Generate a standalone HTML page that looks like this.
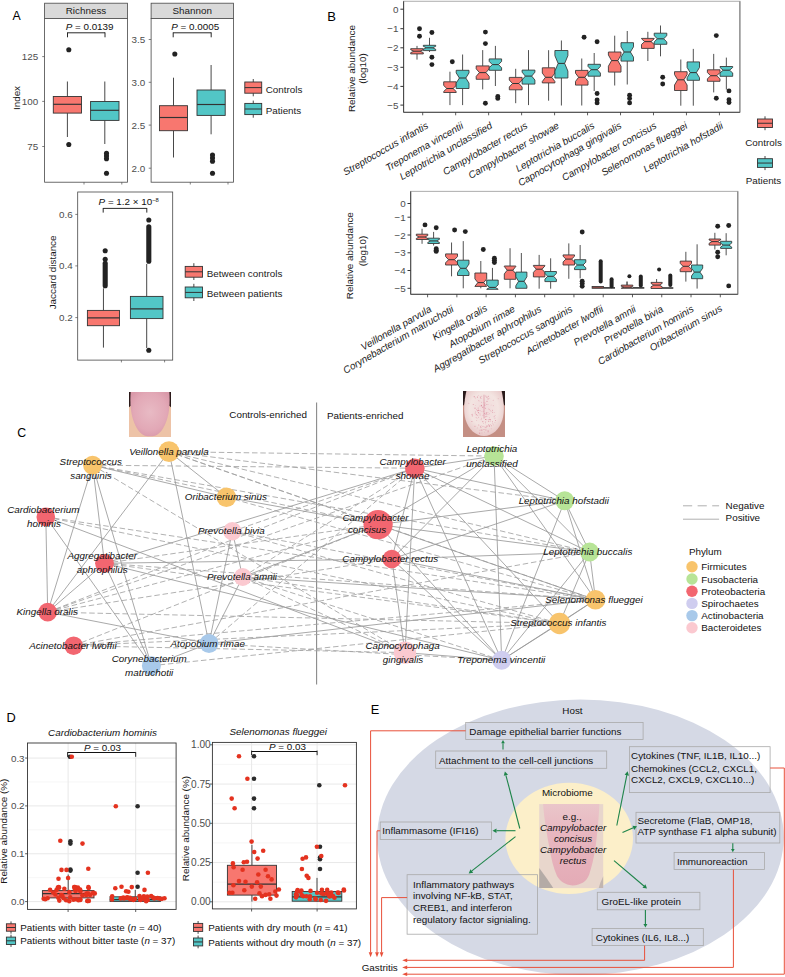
<!DOCTYPE html>
<html><head><meta charset="utf-8"><title>Figure</title>
<style>
html,body{margin:0;padding:0;background:#fff;}
svg{display:block;font-family:"Liberation Sans",sans-serif;}
</style></head><body>
<svg width="785" height="977" viewBox="0 0 785 977">
<defs>
<radialGradient id="tgc" cx="50%" cy="45%" r="60%"><stop offset="0" stop-color="#E8BAC4"/><stop offset="0.7" stop-color="#E2A8B6"/><stop offset="1" stop-color="#D999A9"/></radialGradient>
<radialGradient id="tgp" cx="50%" cy="40%" r="60%"><stop offset="0" stop-color="#F1DADB"/><stop offset="0.6" stop-color="#F3E4E1"/><stop offset="1" stop-color="#E8C8C8"/></radialGradient>
<linearGradient id="tge" x1="0" y1="0" x2="0" y2="1"><stop offset="0" stop-color="#EAC6CA"/><stop offset="0.35" stop-color="#E8B7C0"/><stop offset="1" stop-color="#E4ABB6"/></linearGradient>
</defs>
<rect x="0" y="0" width="785" height="977" fill="#fff"/>
<text x="16.7" y="19.97" font-size="12.3" text-anchor="middle" fill="#000">A</text>
<rect x="44.6" y="3.2" width="82.8" height="15.2" fill="#D9D9D9" stroke="#474747" stroke-width="0.8"/>
<text x="86" y="14.4" font-size="9.85" text-anchor="middle" fill="#1a1a1a">Richness</text>
<rect x="44.6" y="18.4" width="82.8" height="163.8" fill="#fff" stroke="#474747" stroke-width="0.8"/>
<rect x="151.1" y="3.2" width="82.3" height="15.2" fill="#D9D9D9" stroke="#474747" stroke-width="0.8"/>
<text x="192.25" y="14.4" font-size="9.85" text-anchor="middle" fill="#1a1a1a">Shannon</text>
<rect x="151.1" y="18.4" width="82.3" height="163.8" fill="#fff" stroke="#474747" stroke-width="0.8"/>
<line x1="84" y1="182.2" x2="84" y2="184.5" stroke="#4d4d4d" stroke-width="0.7"/>
<line x1="121.8" y1="182.2" x2="121.8" y2="184.5" stroke="#4d4d4d" stroke-width="0.7"/>
<line x1="190.3" y1="182.2" x2="190.3" y2="184.5" stroke="#4d4d4d" stroke-width="0.7"/>
<line x1="228" y1="182.2" x2="228" y2="184.5" stroke="#4d4d4d" stroke-width="0.7"/>
<line x1="42.2" y1="56.6" x2="44.6" y2="56.6" stroke="#4d4d4d" stroke-width="0.7"/>
<text x="38.2" y="60.1" font-size="9.85" text-anchor="end" fill="#4d4d4d">125</text>
<line x1="42.2" y1="101.4" x2="44.6" y2="101.4" stroke="#4d4d4d" stroke-width="0.7"/>
<text x="38.2" y="104.9" font-size="9.85" text-anchor="end" fill="#4d4d4d">100</text>
<line x1="42.2" y1="146.5" x2="44.6" y2="146.5" stroke="#4d4d4d" stroke-width="0.7"/>
<text x="38.2" y="150" font-size="9.85" text-anchor="end" fill="#4d4d4d">75</text>
<text x="20" y="98" font-size="9.85" text-anchor="middle" fill="#1a1a1a" transform="rotate(-90 20 98)">Index</text>
<line x1="148.7" y1="39.5" x2="151.1" y2="39.5" stroke="#4d4d4d" stroke-width="0.7"/>
<text x="145.2" y="43" font-size="9.85" text-anchor="end" fill="#4d4d4d">3.5</text>
<line x1="148.7" y1="82.3" x2="151.1" y2="82.3" stroke="#4d4d4d" stroke-width="0.7"/>
<text x="145.2" y="85.8" font-size="9.85" text-anchor="end" fill="#4d4d4d">3.0</text>
<line x1="148.7" y1="125.1" x2="151.1" y2="125.1" stroke="#4d4d4d" stroke-width="0.7"/>
<text x="145.2" y="128.6" font-size="9.85" text-anchor="end" fill="#4d4d4d">2.5</text>
<line x1="148.7" y1="168.2" x2="151.1" y2="168.2" stroke="#4d4d4d" stroke-width="0.7"/>
<text x="145.2" y="171.7" font-size="9.85" text-anchor="end" fill="#4d4d4d">2.0</text>
<text x="89.6" y="30.2" font-size="9.85" text-anchor="middle" fill="#111"><tspan font-style="italic">P</tspan> = 0.0139</text>
<line x1="67.5" y1="32.8" x2="105" y2="32.8" stroke="#111" stroke-width="0.9"/>
<line x1="67.5" y1="32.4" x2="67.5" y2="37.3" stroke="#111" stroke-width="0.9"/>
<line x1="105" y1="32.4" x2="105" y2="37.3" stroke="#111" stroke-width="0.9"/>
<text x="195.2" y="30.2" font-size="9.85" text-anchor="middle" fill="#111"><tspan font-style="italic">P</tspan> = 0.0005</text>
<line x1="173.2" y1="32.8" x2="211.2" y2="32.8" stroke="#111" stroke-width="0.9"/>
<line x1="173.2" y1="32.4" x2="173.2" y2="37.3" stroke="#111" stroke-width="0.9"/>
<line x1="211.2" y1="32.4" x2="211.2" y2="37.3" stroke="#111" stroke-width="0.9"/>
<line x1="67.4" y1="81.5" x2="67.4" y2="96.5" stroke="#333" stroke-width="0.9"/>
<line x1="67.4" y1="113.1" x2="67.4" y2="137" stroke="#333" stroke-width="0.9"/>
<rect x="53.3" y="96.5" width="28.2" height="16.6" fill="#F8776F" stroke="#333" stroke-width="0.9"/>
<line x1="53.3" y1="104.3" x2="81.5" y2="104.3" stroke="#333" stroke-width="1.1700000000000002"/>
<line x1="104.8" y1="81.5" x2="104.8" y2="101.5" stroke="#333" stroke-width="0.9"/>
<line x1="104.8" y1="120.4" x2="104.8" y2="144" stroke="#333" stroke-width="0.9"/>
<rect x="90.6" y="101.5" width="28.4" height="18.9" fill="#52C6C6" stroke="#333" stroke-width="0.9"/>
<line x1="90.6" y1="110.3" x2="119" y2="110.3" stroke="#333" stroke-width="1.1700000000000002"/>
<circle cx="68.8" cy="49.7" r="2.55" fill="#222"/>
<circle cx="68.8" cy="144.5" r="2.55" fill="#222"/>
<circle cx="106.5" cy="153.4" r="2.55" fill="#222"/>
<circle cx="106.5" cy="156" r="2.55" fill="#222"/>
<circle cx="106.5" cy="158.7" r="2.55" fill="#222"/>
<circle cx="106.5" cy="173.2" r="2.55" fill="#222"/>
<line x1="173.5" y1="77.7" x2="173.5" y2="105.7" stroke="#333" stroke-width="0.9"/>
<line x1="173.5" y1="130.7" x2="173.5" y2="157.5" stroke="#333" stroke-width="0.9"/>
<rect x="159.5" y="105.7" width="28" height="25" fill="#F8776F" stroke="#333" stroke-width="0.9"/>
<line x1="159.5" y1="117.5" x2="187.5" y2="117.5" stroke="#333" stroke-width="1.1700000000000002"/>
<line x1="211.1" y1="65" x2="211.1" y2="90" stroke="#333" stroke-width="0.9"/>
<line x1="211.1" y1="115.4" x2="211.1" y2="134.3" stroke="#333" stroke-width="0.9"/>
<rect x="197" y="90" width="28.2" height="25.4" fill="#52C6C6" stroke="#333" stroke-width="0.9"/>
<line x1="197" y1="104.5" x2="225.2" y2="104.5" stroke="#333" stroke-width="1.1700000000000002"/>
<circle cx="174.8" cy="54" r="2.55" fill="#222"/>
<circle cx="212.5" cy="155" r="2.55" fill="#222"/>
<circle cx="212.5" cy="158" r="2.55" fill="#222"/>
<circle cx="212.5" cy="161.3" r="2.55" fill="#222"/>
<circle cx="212.5" cy="173.2" r="2.55" fill="#222"/>
<line x1="253.25" y1="79" x2="253.25" y2="96.3" stroke="#333" stroke-width="0.9"/>
<rect x="244.8" y="82" width="16.9" height="11.2" fill="#F8776F" stroke="#333" stroke-width="0.9"/>
<line x1="244.8" y1="87.6" x2="261.7" y2="87.6" stroke="#333" stroke-width="1.0"/>
<text x="265.7" y="92.7" font-size="9.85" text-anchor="start" fill="#1a1a1a">Controls</text>
<line x1="253.25" y1="100.6" x2="253.25" y2="117.7" stroke="#333" stroke-width="0.9"/>
<rect x="244.8" y="103.4" width="16.9" height="11.2" fill="#52C6C6" stroke="#333" stroke-width="0.9"/>
<line x1="244.8" y1="109" x2="261.7" y2="109" stroke="#333" stroke-width="1.0"/>
<text x="265.7" y="114.3" font-size="9.85" text-anchor="start" fill="#1a1a1a">Patients</text>
<rect x="77.7" y="192" width="95" height="168.1" fill="#fff" stroke="#474747" stroke-width="0.8"/>
<line x1="75.3" y1="214.4" x2="77.7" y2="214.4" stroke="#4d4d4d" stroke-width="0.7"/>
<text x="72.8" y="217.9" font-size="9.85" text-anchor="end" fill="#4d4d4d">0.6</text>
<line x1="75.3" y1="265.9" x2="77.7" y2="265.9" stroke="#4d4d4d" stroke-width="0.7"/>
<text x="72.8" y="269.4" font-size="9.85" text-anchor="end" fill="#4d4d4d">0.4</text>
<line x1="75.3" y1="317.6" x2="77.7" y2="317.6" stroke="#4d4d4d" stroke-width="0.7"/>
<text x="72.8" y="321.1" font-size="9.85" text-anchor="end" fill="#4d4d4d">0.2</text>
<line x1="121.4" y1="360.1" x2="121.4" y2="362.4" stroke="#4d4d4d" stroke-width="0.7"/>
<line x1="164.6" y1="360.1" x2="164.6" y2="362.4" stroke="#4d4d4d" stroke-width="0.7"/>
<text x="55.7" y="272.4" font-size="9.85" text-anchor="middle" fill="#1a1a1a" transform="rotate(-90 55.7 272.4)">Jaccard distance</text>
<text x="128.7" y="205.2" font-size="9.85" text-anchor="middle" fill="#111"><tspan font-style="italic">P</tspan> = 1.2 × 10<tspan font-size="5.8" dy="-3.4">−8</tspan></text>
<line x1="103.2" y1="208.4" x2="146.8" y2="208.4" stroke="#111" stroke-width="0.9"/>
<line x1="103.2" y1="208" x2="103.2" y2="212.6" stroke="#111" stroke-width="0.9"/>
<line x1="146.8" y1="208" x2="146.8" y2="212.6" stroke="#111" stroke-width="0.9"/>
<line x1="103.45" y1="288.3" x2="103.45" y2="310.4" stroke="#333" stroke-width="0.9"/>
<line x1="103.45" y1="325.7" x2="103.45" y2="347.6" stroke="#333" stroke-width="0.9"/>
<rect x="87.4" y="310.4" width="32.1" height="15.3" fill="#F8776F" stroke="#333" stroke-width="0.9"/>
<line x1="87.4" y1="317.8" x2="119.5" y2="317.8" stroke="#333" stroke-width="1.1700000000000002"/>
<line x1="146.7" y1="264" x2="146.7" y2="296.4" stroke="#333" stroke-width="0.9"/>
<line x1="146.7" y1="318.6" x2="146.7" y2="348" stroke="#333" stroke-width="0.9"/>
<rect x="130.4" y="296.4" width="32.6" height="22.2" fill="#52C6C6" stroke="#333" stroke-width="0.9"/>
<line x1="130.4" y1="308.9" x2="163" y2="308.9" stroke="#333" stroke-width="1.1700000000000002"/>
<circle cx="105.2" cy="250.8" r="2.55" fill="#222"/>
<circle cx="105.2" cy="259.2" r="2.55" fill="#222"/>
<rect x="102.65" y="260.8" width="5.1" height="27.4" rx="2.55" fill="#222"/>
<circle cx="148.8" cy="220" r="2.55" fill="#222"/>
<rect x="146.25" y="224.3" width="5.1" height="39.4" rx="2.55" fill="#222"/>
<circle cx="148.8" cy="350.2" r="2.55" fill="#222"/>
<line x1="193.85" y1="263.2" x2="193.85" y2="280" stroke="#333" stroke-width="0.9"/>
<rect x="185.2" y="266.4" width="17.3" height="10.8" fill="#F8776F" stroke="#333" stroke-width="0.9"/>
<line x1="185.2" y1="271.8" x2="202.5" y2="271.8" stroke="#333" stroke-width="1.0"/>
<text x="206.8" y="276.6" font-size="9.85" text-anchor="start" fill="#1a1a1a">Between controls</text>
<line x1="193.85" y1="283.8" x2="193.85" y2="301" stroke="#333" stroke-width="0.9"/>
<rect x="185.2" y="287" width="17.3" height="10.8" fill="#52C6C6" stroke="#333" stroke-width="0.9"/>
<line x1="185.2" y1="292.4" x2="202.5" y2="292.4" stroke="#333" stroke-width="1.0"/>
<text x="206.8" y="297" font-size="9.85" text-anchor="start" fill="#1a1a1a">Between patients</text>
<text x="331.7" y="20.62" font-size="13.0" text-anchor="middle" fill="#000">B</text>
<rect x="403.6" y="1.3" width="336.3" height="111" fill="#fff" stroke="#b4b4b4" stroke-width="1.1"/>
<line x1="739.9" y1="1.3" x2="739.9" y2="112.3" stroke="#7a7a7a" stroke-width="1.0"/>
<line x1="403.6" y1="1.3" x2="403.6" y2="112.3" stroke="#333" stroke-width="0.9"/>
<line x1="403.6" y1="112.3" x2="739.9" y2="112.3" stroke="#333" stroke-width="0.9"/>
<line x1="400.4" y1="9.2" x2="403.6" y2="9.2" stroke="#333" stroke-width="1.0"/>
<text x="398.4" y="12.7" font-size="9.85" text-anchor="end" fill="#4d4d4d">0</text>
<line x1="400.4" y1="28.7" x2="403.6" y2="28.7" stroke="#333" stroke-width="1.0"/>
<text x="398.4" y="32.2" font-size="9.85" text-anchor="end" fill="#4d4d4d">−1</text>
<line x1="400.4" y1="47.8" x2="403.6" y2="47.8" stroke="#333" stroke-width="1.0"/>
<text x="398.4" y="51.3" font-size="9.85" text-anchor="end" fill="#4d4d4d">−2</text>
<line x1="400.4" y1="67.3" x2="403.6" y2="67.3" stroke="#333" stroke-width="1.0"/>
<text x="398.4" y="70.8" font-size="9.85" text-anchor="end" fill="#4d4d4d">−3</text>
<line x1="400.4" y1="86.4" x2="403.6" y2="86.4" stroke="#333" stroke-width="1.0"/>
<text x="398.4" y="89.9" font-size="9.85" text-anchor="end" fill="#4d4d4d">−4</text>
<line x1="400.4" y1="105.1" x2="403.6" y2="105.1" stroke="#333" stroke-width="1.0"/>
<text x="398.4" y="108.6" font-size="9.85" text-anchor="end" fill="#4d4d4d">−5</text>
<line x1="422.7" y1="112.3" x2="422.7" y2="115.3" stroke="#333" stroke-width="0.8"/>
<line x1="417" y1="45.9" x2="417" y2="48.7" stroke="#333" stroke-width="0.85"/>
<line x1="417" y1="53.9" x2="417" y2="59.6" stroke="#333" stroke-width="0.85"/>
<polygon points="410.7,48.7 410.7,49.74 413.85,51.2 410.7,52.66 410.7,53.9 423.3,53.9 423.3,52.66 420.15,51.2 423.3,49.74 423.3,48.7" fill="#F8776F" stroke="#333" stroke-width="0.85" stroke-linejoin="round"/>
<line x1="413.85" y1="51.2" x2="420.15" y2="51.2" stroke="#333" stroke-width="1.02"/>
<circle cx="419.5" cy="28.7" r="2.45" fill="#222"/>
<circle cx="419.5" cy="36.3" r="2.45" fill="#222"/>
<line x1="429.5" y1="37.8" x2="429.5" y2="45.3" stroke="#333" stroke-width="0.85"/>
<line x1="429.5" y1="50.6" x2="429.5" y2="52" stroke="#333" stroke-width="0.85"/>
<polygon points="423.3,45.3 423.3,46.32 426.4,47.8 423.3,49.28 423.3,50.6 435.7,50.6 435.7,49.28 432.6,47.8 435.7,46.32 435.7,45.3" fill="#52C6C6" stroke="#333" stroke-width="0.85" stroke-linejoin="round"/>
<line x1="426.4" y1="47.8" x2="432.6" y2="47.8" stroke="#333" stroke-width="1.02"/>
<circle cx="431.9" cy="32.5" r="2.45" fill="#222"/>
<circle cx="431.9" cy="57.3" r="2.45" fill="#222"/>
<circle cx="431.9" cy="64.6" r="2.45" fill="#222"/>
<text x="429" y="127.6" font-size="9.85" text-anchor="end" font-style="italic" fill="#1a1a1a" transform="rotate(-30 429 127.6)">Streptococcus infantis</text>
<line x1="455.67" y1="112.3" x2="455.67" y2="115.3" stroke="#333" stroke-width="0.8"/>
<line x1="449.95" y1="71.7" x2="449.95" y2="81.8" stroke="#333" stroke-width="0.85"/>
<line x1="449.95" y1="92.5" x2="449.95" y2="105.1" stroke="#333" stroke-width="0.85"/>
<polygon points="443.7,81.8 443.7,85.5 446.82,88.5 443.7,91.5 443.7,92.5 456.2,92.5 456.2,91.5 453.07,88.5 456.2,85.5 456.2,81.8" fill="#F8776F" stroke="#333" stroke-width="0.85" stroke-linejoin="round"/>
<line x1="446.82" y1="88.5" x2="453.07" y2="88.5" stroke="#333" stroke-width="1.02"/>
<circle cx="452.3" cy="61.7" r="2.45" fill="#222"/>
<line x1="462.6" y1="54.5" x2="462.6" y2="70.3" stroke="#333" stroke-width="0.85"/>
<line x1="462.6" y1="88.5" x2="462.6" y2="105.1" stroke="#333" stroke-width="0.85"/>
<polygon points="456.2,70.3 456.2,72.9 459.4,78 456.2,83.1 456.2,88.5 469,88.5 469,83.1 465.8,78 469,72.9 469,70.3" fill="#52C6C6" stroke="#333" stroke-width="0.85" stroke-linejoin="round"/>
<line x1="459.4" y1="78" x2="465.8" y2="78" stroke="#333" stroke-width="1.02"/>
<text x="464.07" y="127.6" font-size="9.85" text-anchor="end" font-style="italic" fill="#1a1a1a" transform="rotate(-30 464.07 127.6)">Treponema vincentii</text>
<line x1="488.64" y1="112.3" x2="488.64" y2="115.3" stroke="#333" stroke-width="0.8"/>
<line x1="482.7" y1="50.1" x2="482.7" y2="65.9" stroke="#333" stroke-width="0.85"/>
<line x1="482.7" y1="79.3" x2="482.7" y2="89.4" stroke="#333" stroke-width="0.85"/>
<polygon points="476.2,65.9 476.2,68.85 479.45,72.6 476.2,76.35 476.2,79.3 489.2,79.3 489.2,76.35 485.95,72.6 489.2,68.85 489.2,65.9" fill="#F8776F" stroke="#333" stroke-width="0.85" stroke-linejoin="round"/>
<line x1="479.45" y1="72.6" x2="485.95" y2="72.6" stroke="#333" stroke-width="1.02"/>
<circle cx="485.4" cy="32.1" r="2.45" fill="#222"/>
<circle cx="485.4" cy="43.6" r="2.45" fill="#222"/>
<circle cx="485.4" cy="103.2" r="2.45" fill="#222"/>
<line x1="495.4" y1="45.9" x2="495.4" y2="58.9" stroke="#333" stroke-width="0.85"/>
<line x1="495.4" y1="70.3" x2="495.4" y2="86" stroke="#333" stroke-width="0.85"/>
<polygon points="489.2,58.9 489.2,61.41 492.3,64.6 489.2,67.79 489.2,70.3 501.6,70.3 501.6,67.79 498.5,64.6 501.6,61.41 501.6,58.9" fill="#52C6C6" stroke="#333" stroke-width="0.85" stroke-linejoin="round"/>
<line x1="492.3" y1="64.6" x2="498.5" y2="64.6" stroke="#333" stroke-width="1.02"/>
<circle cx="497.8" cy="96.5" r="2.45" fill="#222"/>
<circle cx="497.8" cy="98.4" r="2.45" fill="#222"/>
<text x="493.04" y="127.6" font-size="9.85" text-anchor="end" font-style="italic" fill="#1a1a1a" transform="rotate(-30 493.04 127.6)">Leptotrichia unclassified</text>
<line x1="521.61" y1="112.3" x2="521.61" y2="115.3" stroke="#333" stroke-width="0.8"/>
<line x1="515.7" y1="68.8" x2="515.7" y2="77.4" stroke="#333" stroke-width="0.85"/>
<line x1="515.7" y1="89.8" x2="515.7" y2="103.2" stroke="#333" stroke-width="0.85"/>
<polygon points="509.3,77.4 509.3,80.03 512.5,83.5 509.3,86.97 509.3,89.8 522.1,89.8 522.1,86.97 518.9,83.5 522.1,80.03 522.1,77.4" fill="#F8776F" stroke="#333" stroke-width="0.85" stroke-linejoin="round"/>
<line x1="512.5" y1="83.5" x2="518.9" y2="83.5" stroke="#333" stroke-width="1.02"/>
<line x1="528.5" y1="50.1" x2="528.5" y2="70.1" stroke="#333" stroke-width="0.85"/>
<line x1="528.5" y1="84.1" x2="528.5" y2="105.1" stroke="#333" stroke-width="0.85"/>
<polygon points="522.1,70.1 522.1,72.18 525.3,76.1 522.1,80.02 522.1,84.1 534.9,84.1 534.9,80.02 531.7,76.1 534.9,72.18 534.9,70.1" fill="#52C6C6" stroke="#333" stroke-width="0.85" stroke-linejoin="round"/>
<line x1="525.3" y1="76.1" x2="531.7" y2="76.1" stroke="#333" stroke-width="1.02"/>
<text x="528.21" y="127.6" font-size="9.85" text-anchor="end" font-style="italic" fill="#1a1a1a" transform="rotate(-30 528.21 127.6)">Campylobacter rectus</text>
<line x1="554.58" y1="112.3" x2="554.58" y2="115.3" stroke="#333" stroke-width="0.8"/>
<line x1="548.6" y1="50.2" x2="548.6" y2="67.8" stroke="#333" stroke-width="0.85"/>
<line x1="548.6" y1="82.9" x2="548.6" y2="100.7" stroke="#333" stroke-width="0.85"/>
<polygon points="542.3,67.8 542.3,73.07 545.45,77.3 542.3,81.53 542.3,82.9 554.9,82.9 554.9,81.53 551.75,77.3 554.9,73.07 554.9,67.8" fill="#F8776F" stroke="#333" stroke-width="0.85" stroke-linejoin="round"/>
<line x1="545.45" y1="77.3" x2="551.75" y2="77.3" stroke="#333" stroke-width="1.02"/>
<line x1="561.4" y1="40.5" x2="561.4" y2="50.5" stroke="#333" stroke-width="0.85"/>
<line x1="561.4" y1="78" x2="561.4" y2="105.5" stroke="#333" stroke-width="0.85"/>
<polygon points="554.9,50.5 554.9,55.7 558.15,63.4 554.9,71.1 554.9,78 567.9,78 567.9,71.1 564.65,63.4 567.9,55.7 567.9,50.5" fill="#52C6C6" stroke="#333" stroke-width="0.85" stroke-linejoin="round"/>
<line x1="558.15" y1="63.4" x2="564.65" y2="63.4" stroke="#333" stroke-width="1.02"/>
<text x="559.88" y="127.6" font-size="9.85" text-anchor="end" font-style="italic" fill="#1a1a1a" transform="rotate(-30 559.88 127.6)">Campylobacter showae</text>
<line x1="587.55" y1="112.3" x2="587.55" y2="115.3" stroke="#333" stroke-width="0.8"/>
<line x1="581.75" y1="58.5" x2="581.75" y2="70.4" stroke="#333" stroke-width="0.85"/>
<line x1="581.75" y1="85.1" x2="581.75" y2="105.5" stroke="#333" stroke-width="0.85"/>
<polygon points="575.5,70.4 575.5,73.18 578.62,77.3 575.5,81.42 575.5,85.1 588,85.1 588,81.42 584.88,77.3 588,73.18 588,70.4" fill="#F8776F" stroke="#333" stroke-width="0.85" stroke-linejoin="round"/>
<line x1="578.62" y1="77.3" x2="584.88" y2="77.3" stroke="#333" stroke-width="1.02"/>
<circle cx="584.1" cy="37.2" r="2.45" fill="#222"/>
<line x1="594.2" y1="53" x2="594.2" y2="64.3" stroke="#333" stroke-width="0.85"/>
<line x1="594.2" y1="76.2" x2="594.2" y2="91" stroke="#333" stroke-width="0.85"/>
<polygon points="588,64.3 588,66.37 591.1,69.7 588,73.03 588,76.2 600.4,76.2 600.4,73.03 597.3,69.7 600.4,66.37 600.4,64.3" fill="#52C6C6" stroke="#333" stroke-width="0.85" stroke-linejoin="round"/>
<line x1="591.1" y1="69.7" x2="597.3" y2="69.7" stroke="#333" stroke-width="1.02"/>
<circle cx="597.1" cy="41.8" r="2.45" fill="#222"/>
<circle cx="597.1" cy="93.5" r="2.45" fill="#222"/>
<circle cx="597.1" cy="100" r="2.45" fill="#222"/>
<circle cx="597.1" cy="102.9" r="2.45" fill="#222"/>
<text x="595.25" y="127.6" font-size="9.85" text-anchor="end" font-style="italic" fill="#1a1a1a" transform="rotate(-30 595.25 127.6)">Leptotrichia buccalis</text>
<line x1="620.52" y1="112.3" x2="620.52" y2="115.3" stroke="#333" stroke-width="0.8"/>
<line x1="614.7" y1="35.7" x2="614.7" y2="52" stroke="#333" stroke-width="0.85"/>
<line x1="614.7" y1="72.1" x2="614.7" y2="85.5" stroke="#333" stroke-width="0.85"/>
<polygon points="608.4,52 608.4,54.97 611.55,60.6 608.4,66.23 608.4,72.1 621,72.1 621,66.23 617.85,60.6 621,54.97 621,52" fill="#F8776F" stroke="#333" stroke-width="0.85" stroke-linejoin="round"/>
<line x1="611.55" y1="60.6" x2="617.85" y2="60.6" stroke="#333" stroke-width="1.02"/>
<line x1="627.25" y1="31" x2="627.25" y2="42.7" stroke="#333" stroke-width="0.85"/>
<line x1="627.25" y1="61.1" x2="627.25" y2="84.5" stroke="#333" stroke-width="0.85"/>
<polygon points="621,42.7 621,46.85 624.12,52 621,57.15 621,61.1 633.5,61.1 633.5,57.15 630.38,52 633.5,46.85 633.5,42.7" fill="#52C6C6" stroke="#333" stroke-width="0.85" stroke-linejoin="round"/>
<line x1="624.12" y1="52" x2="630.38" y2="52" stroke="#333" stroke-width="1.02"/>
<circle cx="629.6" cy="95.3" r="2.45" fill="#222"/>
<circle cx="629.6" cy="98.5" r="2.45" fill="#222"/>
<circle cx="629.6" cy="102.9" r="2.45" fill="#222"/>
<text x="622.32" y="127.6" font-size="9.85" text-anchor="end" font-style="italic" fill="#1a1a1a" transform="rotate(-30 622.32 127.6)">Capnocytophaga gingivalis</text>
<line x1="653.49" y1="112.3" x2="653.49" y2="115.3" stroke="#333" stroke-width="0.8"/>
<line x1="647.85" y1="31.8" x2="647.85" y2="38.4" stroke="#333" stroke-width="0.85"/>
<line x1="647.85" y1="48.4" x2="647.85" y2="61" stroke="#333" stroke-width="0.85"/>
<polygon points="641.5,38.4 641.5,38.8 644.67,41.6 641.5,44.4 641.5,48.4 654.2,48.4 654.2,44.4 651.03,41.6 654.2,38.8 654.2,38.4" fill="#F8776F" stroke="#333" stroke-width="0.85" stroke-linejoin="round"/>
<line x1="644.67" y1="41.6" x2="651.03" y2="41.6" stroke="#333" stroke-width="1.02"/>
<line x1="660.5" y1="25.5" x2="660.5" y2="33.2" stroke="#333" stroke-width="0.85"/>
<line x1="660.5" y1="44.3" x2="660.5" y2="56.3" stroke="#333" stroke-width="0.85"/>
<polygon points="654.2,33.2 654.2,35.69 657.35,38.8 654.2,41.91 654.2,44.3 666.8,44.3 666.8,41.91 663.65,38.8 666.8,35.69 666.8,33.2" fill="#52C6C6" stroke="#333" stroke-width="0.85" stroke-linejoin="round"/>
<line x1="657.35" y1="38.8" x2="663.65" y2="38.8" stroke="#333" stroke-width="1.02"/>
<circle cx="662.7" cy="77.2" r="2.45" fill="#222"/>
<circle cx="662.7" cy="84" r="2.45" fill="#222"/>
<text x="657.19" y="127.6" font-size="9.85" text-anchor="end" font-style="italic" fill="#1a1a1a" transform="rotate(-30 657.19 127.6)">Campylobacter concisus</text>
<line x1="686.46" y1="112.3" x2="686.46" y2="115.3" stroke="#333" stroke-width="0.8"/>
<line x1="680.8" y1="59.5" x2="680.8" y2="71.7" stroke="#333" stroke-width="0.85"/>
<line x1="680.8" y1="90.5" x2="680.8" y2="105.7" stroke="#333" stroke-width="0.85"/>
<polygon points="674.5,71.7 674.5,74.54 677.65,79.8 674.5,85.06 674.5,90.5 687.1,90.5 687.1,85.06 683.95,79.8 687.1,74.54 687.1,71.7" fill="#F8776F" stroke="#333" stroke-width="0.85" stroke-linejoin="round"/>
<line x1="677.65" y1="79.8" x2="683.95" y2="79.8" stroke="#333" stroke-width="1.02"/>
<line x1="693.3" y1="48.9" x2="693.3" y2="61.9" stroke="#333" stroke-width="0.85"/>
<line x1="693.3" y1="80.3" x2="693.3" y2="105.7" stroke="#333" stroke-width="0.85"/>
<polygon points="687.1,61.9 687.1,67.45 690.2,72.6 687.1,77.75 687.1,80.3 699.5,80.3 699.5,77.75 696.4,72.6 699.5,67.45 699.5,61.9" fill="#52C6C6" stroke="#333" stroke-width="0.85" stroke-linejoin="round"/>
<line x1="690.2" y1="72.6" x2="696.4" y2="72.6" stroke="#333" stroke-width="1.02"/>
<text x="688.06" y="127.6" font-size="9.85" text-anchor="end" font-style="italic" fill="#1a1a1a" transform="rotate(-30 688.06 127.6)">Selenomonas flueggei</text>
<line x1="719.43" y1="112.3" x2="719.43" y2="115.3" stroke="#333" stroke-width="0.8"/>
<line x1="713.7" y1="53.9" x2="713.7" y2="69.8" stroke="#333" stroke-width="0.85"/>
<line x1="713.7" y1="81.3" x2="713.7" y2="92.4" stroke="#333" stroke-width="0.85"/>
<polygon points="707.4,69.8 707.4,72.48 710.55,75.7 707.4,78.92 707.4,81.3 720,81.3 720,78.92 716.85,75.7 720,72.48 720,69.8" fill="#F8776F" stroke="#333" stroke-width="0.85" stroke-linejoin="round"/>
<line x1="710.55" y1="75.7" x2="716.85" y2="75.7" stroke="#333" stroke-width="1.02"/>
<circle cx="716.3" cy="35.6" r="2.45" fill="#222"/>
<circle cx="716.3" cy="98.3" r="2.45" fill="#222"/>
<line x1="726.35" y1="57.6" x2="726.35" y2="66.5" stroke="#333" stroke-width="0.85"/>
<line x1="726.35" y1="76.3" x2="726.35" y2="89.6" stroke="#333" stroke-width="0.85"/>
<polygon points="720,66.5 720,67.46 723.17,70.2 720,72.94 720,76.3 732.7,76.3 732.7,72.94 729.53,70.2 732.7,67.46 732.7,66.5" fill="#52C6C6" stroke="#333" stroke-width="0.85" stroke-linejoin="round"/>
<line x1="723.17" y1="70.2" x2="729.53" y2="70.2" stroke="#333" stroke-width="1.02"/>
<circle cx="729" cy="90.9" r="2.45" fill="#222"/>
<circle cx="729" cy="99.7" r="2.45" fill="#222"/>
<circle cx="729" cy="102.5" r="2.45" fill="#222"/>
<text x="723.93" y="127.6" font-size="9.85" text-anchor="end" font-style="italic" fill="#1a1a1a" transform="rotate(-30 723.93 127.6)">Leptotrichia hofstadii</text>
<text x="355.2" y="68.5" font-size="9.85" text-anchor="middle" fill="#1a1a1a" transform="rotate(-90 355.2 68.5)">Relative abundance</text>
<text x="366.3" y="68.5" font-size="9.85" text-anchor="middle" fill="#1a1a1a" transform="rotate(-90 366.3 68.5)">(log10)</text>
<line x1="765" y1="116.3" x2="765" y2="130.2" stroke="#333" stroke-width="0.9"/>
<rect x="757.5" y="119" width="15" height="8.5" fill="#F8776F" stroke="#333" stroke-width="0.9"/>
<line x1="757.5" y1="123.25" x2="772.5" y2="123.25" stroke="#333" stroke-width="1.0"/>
<text x="763.5" y="146" font-size="9.85" text-anchor="middle" fill="#1a1a1a">Controls</text>
<line x1="765" y1="156" x2="765" y2="170.1" stroke="#333" stroke-width="0.9"/>
<rect x="757.5" y="158.7" width="15" height="8.7" fill="#52C6C6" stroke="#333" stroke-width="0.9"/>
<line x1="757.5" y1="163.05" x2="772.5" y2="163.05" stroke="#333" stroke-width="1.0"/>
<text x="763.5" y="184" font-size="9.85" text-anchor="middle" fill="#1a1a1a">Patients</text>
<rect x="410.7" y="191.4" width="327.1" height="102.9" fill="#fff" stroke="#b4b4b4" stroke-width="1.1"/>
<line x1="737.8" y1="191.4" x2="737.8" y2="294.3" stroke="#7a7a7a" stroke-width="1.0"/>
<line x1="410.7" y1="191.4" x2="410.7" y2="294.3" stroke="#333" stroke-width="0.9"/>
<line x1="410.7" y1="294.3" x2="737.8" y2="294.3" stroke="#333" stroke-width="0.9"/>
<line x1="407.5" y1="203.5" x2="410.7" y2="203.5" stroke="#333" stroke-width="1.0"/>
<text x="405.7" y="207" font-size="9.85" text-anchor="end" fill="#4d4d4d">0</text>
<line x1="407.5" y1="217.2" x2="410.7" y2="217.2" stroke="#333" stroke-width="1.0"/>
<text x="405.7" y="220.7" font-size="9.85" text-anchor="end" fill="#4d4d4d">−1</text>
<line x1="407.5" y1="235" x2="410.7" y2="235" stroke="#333" stroke-width="1.0"/>
<text x="405.7" y="238.5" font-size="9.85" text-anchor="end" fill="#4d4d4d">−2</text>
<line x1="407.5" y1="252.8" x2="410.7" y2="252.8" stroke="#333" stroke-width="1.0"/>
<text x="405.7" y="256.3" font-size="9.85" text-anchor="end" fill="#4d4d4d">−3</text>
<line x1="407.5" y1="270.5" x2="410.7" y2="270.5" stroke="#333" stroke-width="1.0"/>
<text x="405.7" y="274" font-size="9.85" text-anchor="end" fill="#4d4d4d">−4</text>
<line x1="407.5" y1="288.3" x2="410.7" y2="288.3" stroke="#333" stroke-width="1.0"/>
<text x="405.7" y="291.8" font-size="9.85" text-anchor="end" fill="#4d4d4d">−5</text>
<line x1="427.6" y1="294.3" x2="427.6" y2="297.3" stroke="#333" stroke-width="0.8"/>
<line x1="422.05" y1="228.8" x2="422.05" y2="234.2" stroke="#333" stroke-width="0.85"/>
<line x1="422.05" y1="239.5" x2="422.05" y2="243.8" stroke="#333" stroke-width="0.85"/>
<polygon points="416.3,234.2 416.3,235.52 419.18,237 416.3,238.48 416.3,239.5 427.8,239.5 427.8,238.48 424.93,237 427.8,235.52 427.8,234.2" fill="#F8776F" stroke="#333" stroke-width="0.85" stroke-linejoin="round"/>
<line x1="419.18" y1="237" x2="424.93" y2="237" stroke="#333" stroke-width="1.02"/>
<circle cx="425" cy="224.9" r="2.45" fill="#222"/>
<line x1="433.6" y1="231.9" x2="433.6" y2="238.2" stroke="#333" stroke-width="0.85"/>
<line x1="433.6" y1="243.5" x2="433.6" y2="245.5" stroke="#333" stroke-width="0.85"/>
<polygon points="427.8,238.2 427.8,239.42 430.7,240.9 427.8,242.38 427.8,243.5 439.4,243.5 439.4,242.38 436.5,240.9 439.4,239.42 439.4,238.2" fill="#52C6C6" stroke="#333" stroke-width="0.85" stroke-linejoin="round"/>
<line x1="430.7" y1="240.9" x2="436.5" y2="240.9" stroke="#333" stroke-width="1.02"/>
<circle cx="436.2" cy="227.7" r="2.45" fill="#222"/>
<circle cx="436.2" cy="248.8" r="2.45" fill="#222"/>
<circle cx="436.2" cy="250.2" r="2.45" fill="#222"/>
<circle cx="436.2" cy="251.4" r="2.45" fill="#222"/>
<text x="432.2" y="311" font-size="9.85" text-anchor="end" font-style="italic" fill="#1a1a1a" transform="rotate(-30 432.2 311)">Veillonella parvula</text>
<line x1="456.87" y1="294.3" x2="456.87" y2="297.3" stroke="#333" stroke-width="0.8"/>
<line x1="451.55" y1="242.5" x2="451.55" y2="253.9" stroke="#333" stroke-width="0.85"/>
<line x1="451.55" y1="265" x2="451.55" y2="276.3" stroke="#333" stroke-width="0.85"/>
<polygon points="445.6,253.9 445.6,256.59 448.58,259.7 445.6,262.81 445.6,265 457.5,265 457.5,262.81 454.52,259.7 457.5,256.59 457.5,253.9" fill="#F8776F" stroke="#333" stroke-width="0.85" stroke-linejoin="round"/>
<line x1="448.58" y1="259.7" x2="454.52" y2="259.7" stroke="#333" stroke-width="1.02"/>
<circle cx="454.6" cy="230" r="2.45" fill="#222"/>
<line x1="463.25" y1="241.1" x2="463.25" y2="260.2" stroke="#333" stroke-width="0.85"/>
<line x1="463.25" y1="275.5" x2="463.25" y2="288.3" stroke="#333" stroke-width="0.85"/>
<polygon points="457.5,260.2 457.5,264.02 460.38,268.3 457.5,272.58 457.5,275.5 469,275.5 469,272.58 466.12,268.3 469,264.02 469,260.2" fill="#52C6C6" stroke="#333" stroke-width="0.85" stroke-linejoin="round"/>
<line x1="460.38" y1="268.3" x2="466.12" y2="268.3" stroke="#333" stroke-width="1.02"/>
<circle cx="465.3" cy="231.6" r="2.45" fill="#222"/>
<text x="454.47" y="311" font-size="9.85" text-anchor="end" font-style="italic" fill="#1a1a1a" transform="rotate(-30 454.47 311)">Corynebacterium matruchotii</text>
<line x1="486.14" y1="294.3" x2="486.14" y2="297.3" stroke="#333" stroke-width="0.8"/>
<line x1="480.8" y1="261" x2="480.8" y2="273" stroke="#333" stroke-width="0.85"/>
<line x1="480.8" y1="286.4" x2="480.8" y2="288.3" stroke="#333" stroke-width="0.85"/>
<polygon points="474.9,273 474.9,278.85 477.85,282.6 474.9,286.35 474.9,286.4 486.7,286.4 486.7,286.35 483.75,282.6 486.7,278.85 486.7,273" fill="#F8776F" stroke="#333" stroke-width="0.85" stroke-linejoin="round"/>
<line x1="477.85" y1="282.6" x2="483.75" y2="282.6" stroke="#333" stroke-width="1.02"/>
<circle cx="483.3" cy="249.5" r="2.45" fill="#222"/>
<line x1="492.45" y1="267.9" x2="492.45" y2="280.1" stroke="#333" stroke-width="0.85"/>
<line x1="492.45" y1="289.3" x2="492.45" y2="289.3" stroke="#333" stroke-width="0.85"/>
<polygon points="486.7,280.1 486.7,284.82 489.57,287.4 486.7,289.3 486.7,289.3 498.2,289.3 498.2,289.3 495.32,287.4 498.2,284.82 498.2,280.1" fill="#52C6C6" stroke="#333" stroke-width="0.85" stroke-linejoin="round"/>
<line x1="489.57" y1="287.4" x2="495.32" y2="287.4" stroke="#333" stroke-width="1.02"/>
<circle cx="494.4" cy="258.3" r="2.45" fill="#222"/>
<circle cx="494.4" cy="260.2" r="2.45" fill="#222"/>
<circle cx="494.4" cy="262.5" r="2.45" fill="#222"/>
<text x="487.94" y="310.1" font-size="9.85" text-anchor="end" font-style="italic" fill="#1a1a1a" transform="rotate(-30 487.94 310.1)">Kingella oralis</text>
<line x1="515.41" y1="294.3" x2="515.41" y2="297.3" stroke="#333" stroke-width="0.8"/>
<line x1="510.05" y1="248.2" x2="510.05" y2="266" stroke="#333" stroke-width="0.85"/>
<line x1="510.05" y1="279.3" x2="510.05" y2="288.3" stroke="#333" stroke-width="0.85"/>
<polygon points="504.3,266 504.3,266.48 507.18,270.2 504.3,273.92 504.3,279.3 515.8,279.3 515.8,273.92 512.92,270.2 515.8,266.48 515.8,266" fill="#F8776F" stroke="#333" stroke-width="0.85" stroke-linejoin="round"/>
<line x1="507.18" y1="270.2" x2="512.92" y2="270.2" stroke="#333" stroke-width="1.02"/>
<line x1="521.35" y1="253" x2="521.35" y2="272.1" stroke="#333" stroke-width="0.85"/>
<line x1="521.35" y1="288.3" x2="521.35" y2="288.3" stroke="#333" stroke-width="0.85"/>
<polygon points="515.8,272.1 515.8,276.76 518.57,281.3 515.8,285.84 515.8,288.3 526.9,288.3 526.9,285.84 524.12,281.3 526.9,276.76 526.9,272.1" fill="#52C6C6" stroke="#333" stroke-width="0.85" stroke-linejoin="round"/>
<line x1="518.57" y1="281.3" x2="524.12" y2="281.3" stroke="#333" stroke-width="1.02"/>
<text x="515.81" y="310.8" font-size="9.85" text-anchor="end" font-style="italic" fill="#1a1a1a" transform="rotate(-30 515.81 310.8)">Atopobium rimae</text>
<line x1="544.68" y1="294.3" x2="544.68" y2="297.3" stroke="#333" stroke-width="0.8"/>
<line x1="539.15" y1="254.9" x2="539.15" y2="265.4" stroke="#333" stroke-width="0.85"/>
<line x1="539.15" y1="276.9" x2="539.15" y2="288.7" stroke="#333" stroke-width="0.85"/>
<polygon points="533.4,265.4 533.4,265.98 536.27,269.2 533.4,272.42 533.4,276.9 544.9,276.9 544.9,272.42 542.02,269.2 544.9,265.98 544.9,265.4" fill="#F8776F" stroke="#333" stroke-width="0.85" stroke-linejoin="round"/>
<line x1="536.27" y1="269.2" x2="542.02" y2="269.2" stroke="#333" stroke-width="1.02"/>
<line x1="550.65" y1="258.3" x2="550.65" y2="271.5" stroke="#333" stroke-width="0.85"/>
<line x1="550.65" y1="281.6" x2="550.65" y2="288.7" stroke="#333" stroke-width="0.85"/>
<polygon points="544.9,271.5 544.9,273.47 547.77,276.3 544.9,279.13 544.9,281.6 556.4,281.6 556.4,279.13 553.52,276.3 556.4,273.47 556.4,271.5" fill="#52C6C6" stroke="#333" stroke-width="0.85" stroke-linejoin="round"/>
<line x1="547.77" y1="276.3" x2="553.52" y2="276.3" stroke="#333" stroke-width="1.02"/>
<text x="542.28" y="311" font-size="9.85" text-anchor="end" font-style="italic" fill="#1a1a1a" transform="rotate(-30 542.28 311)">Aggregatibacter aphrophilus</text>
<line x1="573.95" y1="294.3" x2="573.95" y2="297.3" stroke="#333" stroke-width="0.8"/>
<line x1="568.8" y1="243.4" x2="568.8" y2="254.9" stroke="#333" stroke-width="0.85"/>
<line x1="568.8" y1="265" x2="568.8" y2="278.8" stroke="#333" stroke-width="0.85"/>
<polygon points="563.1,254.9 563.1,256.27 565.95,259.1 563.1,261.93 563.1,265 574.5,265 574.5,261.93 571.65,259.1 574.5,256.27 574.5,254.9" fill="#F8776F" stroke="#333" stroke-width="0.85" stroke-linejoin="round"/>
<line x1="565.95" y1="259.1" x2="571.65" y2="259.1" stroke="#333" stroke-width="1.02"/>
<line x1="580.15" y1="245" x2="580.15" y2="259.7" stroke="#333" stroke-width="0.85"/>
<line x1="580.15" y1="269.6" x2="580.15" y2="278.4" stroke="#333" stroke-width="0.85"/>
<polygon points="574.5,259.7 574.5,262.23 577.33,265 574.5,267.77 574.5,269.6 585.8,269.6 585.8,267.77 582.97,265 585.8,262.23 585.8,259.7" fill="#52C6C6" stroke="#333" stroke-width="0.85" stroke-linejoin="round"/>
<line x1="577.33" y1="265" x2="582.97" y2="265" stroke="#333" stroke-width="1.02"/>
<circle cx="582.2" cy="232" r="2.45" fill="#222"/>
<circle cx="582.2" cy="281.3" r="2.45" fill="#222"/>
<circle cx="582.2" cy="283.6" r="2.45" fill="#222"/>
<circle cx="582.2" cy="286.2" r="2.45" fill="#222"/>
<text x="573.25" y="311" font-size="9.85" text-anchor="end" font-style="italic" fill="#1a1a1a" transform="rotate(-30 573.25 311)">Streptococcus sanguinis</text>
<line x1="603.22" y1="294.3" x2="603.22" y2="297.3" stroke="#333" stroke-width="0.8"/>
<text x="604.22" y="310.9" font-size="9.85" text-anchor="end" font-style="italic" fill="#1a1a1a" transform="rotate(-30 604.22 310.9)">Acinetobacter lwoffii</text>
<line x1="632.49" y1="294.3" x2="632.49" y2="297.3" stroke="#333" stroke-width="0.8"/>
<text x="636.69" y="310.9" font-size="9.85" text-anchor="end" font-style="italic" fill="#1a1a1a" transform="rotate(-30 636.69 310.9)">Prevotella amnii</text>
<line x1="661.76" y1="294.3" x2="661.76" y2="297.3" stroke="#333" stroke-width="0.8"/>
<text x="663.96" y="310.9" font-size="9.85" text-anchor="end" font-style="italic" fill="#1a1a1a" transform="rotate(-30 663.96 310.9)">Prevotella bivia</text>
<line x1="691.03" y1="294.3" x2="691.03" y2="297.3" stroke="#333" stroke-width="0.8"/>
<line x1="685.85" y1="251.8" x2="685.85" y2="261.1" stroke="#333" stroke-width="0.85"/>
<line x1="685.85" y1="271.7" x2="685.85" y2="281.6" stroke="#333" stroke-width="0.85"/>
<polygon points="680.2,261.1 680.2,263.33 683.03,266.3 680.2,269.27 680.2,271.7 691.5,271.7 691.5,269.27 688.67,266.3 691.5,263.33 691.5,261.1" fill="#F8776F" stroke="#333" stroke-width="0.85" stroke-linejoin="round"/>
<line x1="683.03" y1="266.3" x2="688.67" y2="266.3" stroke="#333" stroke-width="1.02"/>
<line x1="697.1" y1="244.3" x2="697.1" y2="265" stroke="#333" stroke-width="0.85"/>
<line x1="697.1" y1="278.7" x2="697.1" y2="288.6" stroke="#333" stroke-width="0.85"/>
<polygon points="691.5,265 691.5,268.26 694.3,272.1 691.5,275.94 691.5,278.7 702.7,278.7 702.7,275.94 699.9,272.1 702.7,268.26 702.7,265" fill="#52C6C6" stroke="#333" stroke-width="0.85" stroke-linejoin="round"/>
<line x1="694.3" y1="272.1" x2="699.9" y2="272.1" stroke="#333" stroke-width="1.02"/>
<text x="694.53" y="310.9" font-size="9.85" text-anchor="end" font-style="italic" fill="#1a1a1a" transform="rotate(-30 694.53 310.9)">Cardiobacterium hominis</text>
<line x1="720.3" y1="294.3" x2="720.3" y2="297.3" stroke="#333" stroke-width="0.8"/>
<line x1="714.85" y1="232.8" x2="714.85" y2="239" stroke="#333" stroke-width="0.85"/>
<line x1="714.85" y1="245.1" x2="714.85" y2="249.5" stroke="#333" stroke-width="0.85"/>
<polygon points="709.1,239 709.1,239.89 711.98,241.6 709.1,243.31 709.1,245.1 720.6,245.1 720.6,243.31 717.73,241.6 720.6,239.89 720.6,239" fill="#F8776F" stroke="#333" stroke-width="0.85" stroke-linejoin="round"/>
<line x1="711.98" y1="241.6" x2="717.73" y2="241.6" stroke="#333" stroke-width="1.02"/>
<circle cx="717.7" cy="226.3" r="2.45" fill="#222"/>
<circle cx="717.7" cy="252.3" r="2.45" fill="#222"/>
<circle cx="717.7" cy="256.8" r="2.45" fill="#222"/>
<line x1="726.15" y1="233.2" x2="726.15" y2="241.3" stroke="#333" stroke-width="0.85"/>
<line x1="726.15" y1="248.4" x2="726.15" y2="255.3" stroke="#333" stroke-width="0.85"/>
<polygon points="720.6,241.3 720.6,243.11 723.38,245.1 720.6,247.09 720.6,248.4 731.7,248.4 731.7,247.09 728.93,245.1 731.7,243.11 731.7,241.3" fill="#52C6C6" stroke="#333" stroke-width="0.85" stroke-linejoin="round"/>
<line x1="723.38" y1="245.1" x2="728.93" y2="245.1" stroke="#333" stroke-width="1.02"/>
<circle cx="728.7" cy="225.5" r="2.45" fill="#222"/>
<circle cx="728.7" cy="285.9" r="2.45" fill="#222"/>
<text x="723" y="310.4" font-size="9.85" text-anchor="end" font-style="italic" fill="#1a1a1a" transform="rotate(-30 723 310.4)">Oribacterium sinus</text>
<rect x="600.7" y="259.6" width="0.01" height="0.01"/>
<line x1="600.7" y1="261.2" x2="600.7" y2="281.6" stroke="#222" stroke-width="4" stroke-linecap="round"/>
<rect x="592.1" y="286.4" width="11.5" height="1.9" fill="#8a4a45" stroke="#333" stroke-width="0.8"/>
<line x1="603.6" y1="287.9" x2="615" y2="287.9" stroke="#333" stroke-width="1.6"/>
<line x1="611.6" y1="279.3" x2="611.6" y2="286.2" stroke="#222" stroke-width="4" stroke-linecap="round"/>
<line x1="627" y1="281.6" x2="627" y2="285.1" stroke="#333" stroke-width="0.8"/>
<line x1="627.05" y1="281.6" x2="627.05" y2="285.1" stroke="#333" stroke-width="0.85"/>
<line x1="627.05" y1="288.3" x2="627.05" y2="288.3" stroke="#333" stroke-width="0.85"/>
<polygon points="621.3,285.1 621.3,286.3 624.17,287.2 621.3,288.1 621.3,288.3 632.8,288.3 632.8,288.1 629.92,287.2 632.8,286.3 632.8,285.1" fill="#F8776F" stroke="#333" stroke-width="0.85" stroke-linejoin="round"/>
<line x1="624.17" y1="287.2" x2="629.92" y2="287.2" stroke="#333" stroke-width="1.02"/>
<circle cx="629.4" cy="276.3" r="2" fill="#222"/>
<line x1="632.8" y1="287.9" x2="644.3" y2="287.9" stroke="#333" stroke-width="1.6"/>
<line x1="640.8" y1="276.5" x2="640.8" y2="285.6" stroke="#222" stroke-width="4" stroke-linecap="round"/>
<line x1="656.6" y1="279" x2="656.6" y2="282.4" stroke="#333" stroke-width="0.85"/>
<line x1="656.6" y1="288.5" x2="656.6" y2="288.5" stroke="#333" stroke-width="0.85"/>
<polygon points="651,282.4 651,283.39 653.8,285.1 651,286.81 651,288.5 662.2,288.5 662.2,286.81 659.4,285.1 662.2,283.39 662.2,282.4" fill="#F8776F" stroke="#333" stroke-width="0.85" stroke-linejoin="round"/>
<line x1="653.8" y1="285.1" x2="659.4" y2="285.1" stroke="#333" stroke-width="1.02"/>
<circle cx="659.1" cy="269.4" r="2" fill="#222"/>
<line x1="662.2" y1="288" x2="673.3" y2="288" stroke="#333" stroke-width="1.6"/>
<line x1="670.3" y1="275.4" x2="670.3" y2="284.9" stroke="#222" stroke-width="4" stroke-linecap="round"/>
<text x="352.7" y="255.7" font-size="9.85" text-anchor="middle" fill="#1a1a1a" transform="rotate(-90 352.7 255.7)">Relative abundance</text>
<text x="365.7" y="251" font-size="9.85" text-anchor="middle" fill="#1a1a1a" transform="rotate(-90 365.7 251)">(log10)</text>
<text x="21.7" y="436.57" font-size="12.3" text-anchor="middle" fill="#000">C</text>
<line x1="316.6" y1="402.4" x2="316.6" y2="684.5" stroke="#8a8a8a" stroke-width="1.1"/>
<text x="229.3" y="418.1" font-size="9.85" text-anchor="start" fill="#111">Controls-enriched</text>
<text x="326.9" y="418.5" font-size="9.85" text-anchor="start" fill="#111">Patients-enriched</text>
<line x1="169" y1="451.7" x2="494" y2="456.1" stroke="#a3a3a3" stroke-width="0.85" stroke-dasharray="5.5 2.8"/>
<line x1="92.6" y1="465.2" x2="414.8" y2="468.2" stroke="#a3a3a3" stroke-width="0.85" stroke-dasharray="5.5 2.8"/>
<line x1="169" y1="451.7" x2="564.7" y2="500.8" stroke="#a3a3a3" stroke-width="0.85" stroke-dasharray="5.5 2.8"/>
<line x1="169" y1="451.7" x2="589.6" y2="552.1" stroke="#a3a3a3" stroke-width="0.85" stroke-dasharray="5.5 2.8"/>
<line x1="232.3" y1="531.3" x2="414.8" y2="468.2" stroke="#a3a3a3" stroke-width="0.85" stroke-dasharray="5.5 2.8"/>
<line x1="169" y1="451.7" x2="378.1" y2="524.6" stroke="#a3a3a3" stroke-width="0.85" stroke-dasharray="5.5 2.8"/>
<line x1="169" y1="451.7" x2="595.5" y2="599.7" stroke="#a3a3a3" stroke-width="0.85" stroke-dasharray="5.5 2.8"/>
<line x1="47.7" y1="612.1" x2="414.8" y2="468.2" stroke="#a3a3a3" stroke-width="0.85" stroke-dasharray="5.5 2.8"/>
<line x1="47.7" y1="612.1" x2="494" y2="456.1" stroke="#a3a3a3" stroke-width="0.85" stroke-dasharray="5.5 2.8"/>
<line x1="226.4" y1="497.2" x2="595.5" y2="599.7" stroke="#a3a3a3" stroke-width="0.85" stroke-dasharray="5.5 2.8"/>
<line x1="242.7" y1="577" x2="414.8" y2="468.2" stroke="#a3a3a3" stroke-width="0.85" stroke-dasharray="5.5 2.8"/>
<line x1="104.5" y1="563.3" x2="378.1" y2="524.6" stroke="#a3a3a3" stroke-width="0.85" stroke-dasharray="5.5 2.8"/>
<line x1="47.7" y1="612.1" x2="378.1" y2="524.6" stroke="#a3a3a3" stroke-width="0.85" stroke-dasharray="5.5 2.8"/>
<line x1="232.3" y1="531.3" x2="595.5" y2="599.7" stroke="#a3a3a3" stroke-width="0.85" stroke-dasharray="5.5 2.8"/>
<line x1="209" y1="643.5" x2="414.8" y2="468.2" stroke="#a3a3a3" stroke-width="0.85" stroke-dasharray="5.5 2.8"/>
<line x1="73.6" y1="645.7" x2="378.1" y2="524.6" stroke="#a3a3a3" stroke-width="0.85" stroke-dasharray="5.5 2.8"/>
<line x1="232.3" y1="531.3" x2="559.5" y2="623.5" stroke="#a3a3a3" stroke-width="0.85" stroke-dasharray="5.5 2.8"/>
<line x1="45.8" y1="516.9" x2="595.5" y2="599.7" stroke="#a3a3a3" stroke-width="0.85" stroke-dasharray="5.5 2.8"/>
<line x1="47.7" y1="612.1" x2="391.8" y2="559" stroke="#a3a3a3" stroke-width="0.85" stroke-dasharray="5.5 2.8"/>
<line x1="45.8" y1="516.9" x2="559.5" y2="623.5" stroke="#a3a3a3" stroke-width="0.85" stroke-dasharray="5.5 2.8"/>
<line x1="104.5" y1="563.3" x2="595.5" y2="599.7" stroke="#a3a3a3" stroke-width="0.85" stroke-dasharray="5.5 2.8"/>
<line x1="242.7" y1="577" x2="559.5" y2="623.5" stroke="#a3a3a3" stroke-width="0.85" stroke-dasharray="5.5 2.8"/>
<line x1="104.5" y1="563.3" x2="559.5" y2="623.5" stroke="#a3a3a3" stroke-width="0.85" stroke-dasharray="5.5 2.8"/>
<line x1="242.7" y1="577" x2="501.7" y2="660.2" stroke="#a3a3a3" stroke-width="0.85" stroke-dasharray="5.5 2.8"/>
<line x1="73.6" y1="645.7" x2="589.6" y2="552.1" stroke="#a3a3a3" stroke-width="0.85" stroke-dasharray="5.5 2.8"/>
<line x1="92.6" y1="465.2" x2="405" y2="652.6" stroke="#a3a3a3" stroke-width="0.85" stroke-dasharray="5.5 2.8"/>
<line x1="242.7" y1="577" x2="405" y2="652.6" stroke="#a3a3a3" stroke-width="0.85" stroke-dasharray="5.5 2.8"/>
<line x1="47.7" y1="612.1" x2="559.5" y2="623.5" stroke="#a3a3a3" stroke-width="0.85" stroke-dasharray="5.5 2.8"/>
<line x1="73.6" y1="645.7" x2="595.5" y2="599.7" stroke="#a3a3a3" stroke-width="0.85" stroke-dasharray="5.5 2.8"/>
<line x1="73.6" y1="645.7" x2="559.5" y2="623.5" stroke="#a3a3a3" stroke-width="0.85" stroke-dasharray="5.5 2.8"/>
<line x1="151.4" y1="665.7" x2="559.5" y2="623.5" stroke="#a3a3a3" stroke-width="0.85" stroke-dasharray="5.5 2.8"/>
<line x1="209" y1="643.5" x2="501.7" y2="660.2" stroke="#a3a3a3" stroke-width="0.85" stroke-dasharray="5.5 2.8"/>
<line x1="73.6" y1="645.7" x2="405" y2="652.6" stroke="#a3a3a3" stroke-width="0.85" stroke-dasharray="5.5 2.8"/>
<line x1="92.6" y1="465.2" x2="589.6" y2="552.1" stroke="#a3a3a3" stroke-width="0.85" stroke-dasharray="5.5 2.8"/>
<line x1="92.6" y1="465.2" x2="378.1" y2="524.6" stroke="#a3a3a3" stroke-width="0.85" stroke-dasharray="5.5 2.8"/>
<line x1="169" y1="451.7" x2="226.4" y2="497.2" stroke="#9a9a9a" stroke-width="0.85"/>
<line x1="169" y1="451.7" x2="47.7" y2="612.1" stroke="#9a9a9a" stroke-width="0.85"/>
<line x1="169" y1="451.7" x2="209" y2="643.5" stroke="#9a9a9a" stroke-width="0.85"/>
<line x1="92.6" y1="465.2" x2="47.7" y2="612.1" stroke="#9a9a9a" stroke-width="0.85"/>
<line x1="92.6" y1="465.2" x2="104.5" y2="563.3" stroke="#9a9a9a" stroke-width="0.85"/>
<line x1="92.6" y1="465.2" x2="151.4" y2="665.7" stroke="#9a9a9a" stroke-width="0.85"/>
<line x1="92.6" y1="465.2" x2="226.4" y2="497.2" stroke="#9a9a9a" stroke-width="0.85"/>
<line x1="45.8" y1="516.9" x2="47.7" y2="612.1" stroke="#9a9a9a" stroke-width="0.85"/>
<line x1="45.8" y1="516.9" x2="151.4" y2="665.7" stroke="#9a9a9a" stroke-width="0.85"/>
<line x1="104.5" y1="563.3" x2="47.7" y2="612.1" stroke="#9a9a9a" stroke-width="0.85"/>
<line x1="104.5" y1="563.3" x2="151.4" y2="665.7" stroke="#9a9a9a" stroke-width="0.85"/>
<line x1="232.3" y1="531.3" x2="209" y2="643.5" stroke="#9a9a9a" stroke-width="0.85"/>
<line x1="242.7" y1="577" x2="209" y2="643.5" stroke="#9a9a9a" stroke-width="0.85"/>
<line x1="232.3" y1="531.3" x2="242.7" y2="577" stroke="#9a9a9a" stroke-width="0.85"/>
<line x1="209" y1="643.5" x2="151.4" y2="665.7" stroke="#9a9a9a" stroke-width="0.85"/>
<line x1="47.7" y1="612.1" x2="209" y2="643.5" stroke="#9a9a9a" stroke-width="0.85"/>
<line x1="45.8" y1="516.9" x2="405" y2="652.6" stroke="#9a9a9a" stroke-width="0.85"/>
<line x1="104.5" y1="563.3" x2="391.8" y2="559" stroke="#9a9a9a" stroke-width="0.85"/>
<line x1="104.5" y1="563.3" x2="414.8" y2="468.2" stroke="#9a9a9a" stroke-width="0.85"/>
<line x1="104.5" y1="563.3" x2="501.7" y2="660.2" stroke="#9a9a9a" stroke-width="0.85"/>
<line x1="226.4" y1="497.2" x2="378.1" y2="524.6" stroke="#9a9a9a" stroke-width="0.85"/>
<line x1="242.7" y1="577" x2="378.1" y2="524.6" stroke="#9a9a9a" stroke-width="0.85"/>
<line x1="242.7" y1="577" x2="595.5" y2="599.7" stroke="#9a9a9a" stroke-width="0.85"/>
<line x1="209" y1="643.5" x2="595.5" y2="599.7" stroke="#9a9a9a" stroke-width="0.85"/>
<line x1="494" y1="456.1" x2="414.8" y2="468.2" stroke="#9a9a9a" stroke-width="0.85"/>
<line x1="494" y1="456.1" x2="564.7" y2="500.8" stroke="#9a9a9a" stroke-width="0.85"/>
<line x1="494" y1="456.1" x2="589.6" y2="552.1" stroke="#9a9a9a" stroke-width="0.85"/>
<line x1="494" y1="456.1" x2="595.5" y2="599.7" stroke="#9a9a9a" stroke-width="0.85"/>
<line x1="494" y1="456.1" x2="501.7" y2="660.2" stroke="#9a9a9a" stroke-width="0.85"/>
<line x1="494" y1="456.1" x2="391.8" y2="559" stroke="#9a9a9a" stroke-width="0.85"/>
<line x1="494" y1="456.1" x2="378.1" y2="524.6" stroke="#9a9a9a" stroke-width="0.85"/>
<line x1="414.8" y1="468.2" x2="564.7" y2="500.8" stroke="#9a9a9a" stroke-width="0.85"/>
<line x1="414.8" y1="468.2" x2="589.6" y2="552.1" stroke="#9a9a9a" stroke-width="0.85"/>
<line x1="414.8" y1="468.2" x2="559.5" y2="623.5" stroke="#9a9a9a" stroke-width="0.85"/>
<line x1="414.8" y1="468.2" x2="501.7" y2="660.2" stroke="#9a9a9a" stroke-width="0.85"/>
<line x1="414.8" y1="468.2" x2="405" y2="652.6" stroke="#9a9a9a" stroke-width="0.85"/>
<line x1="414.8" y1="468.2" x2="391.8" y2="559" stroke="#9a9a9a" stroke-width="0.85"/>
<line x1="378.1" y1="524.6" x2="589.6" y2="552.1" stroke="#9a9a9a" stroke-width="0.85"/>
<line x1="378.1" y1="524.6" x2="564.7" y2="500.8" stroke="#9a9a9a" stroke-width="0.85"/>
<line x1="378.1" y1="524.6" x2="595.5" y2="599.7" stroke="#9a9a9a" stroke-width="0.85"/>
<line x1="378.1" y1="524.6" x2="501.7" y2="660.2" stroke="#9a9a9a" stroke-width="0.85"/>
<line x1="391.8" y1="559" x2="589.6" y2="552.1" stroke="#9a9a9a" stroke-width="0.85"/>
<line x1="391.8" y1="559" x2="564.7" y2="500.8" stroke="#9a9a9a" stroke-width="0.85"/>
<line x1="391.8" y1="559" x2="501.7" y2="660.2" stroke="#9a9a9a" stroke-width="0.85"/>
<line x1="391.8" y1="559" x2="405" y2="652.6" stroke="#9a9a9a" stroke-width="0.85"/>
<line x1="391.8" y1="559" x2="595.5" y2="599.7" stroke="#9a9a9a" stroke-width="0.85"/>
<line x1="564.7" y1="500.8" x2="595.5" y2="599.7" stroke="#9a9a9a" stroke-width="0.85"/>
<line x1="564.7" y1="500.8" x2="589.6" y2="552.1" stroke="#9a9a9a" stroke-width="0.85"/>
<line x1="564.7" y1="500.8" x2="501.7" y2="660.2" stroke="#9a9a9a" stroke-width="0.85"/>
<line x1="589.6" y1="552.1" x2="595.5" y2="599.7" stroke="#9a9a9a" stroke-width="0.85"/>
<line x1="589.6" y1="552.1" x2="559.5" y2="623.5" stroke="#9a9a9a" stroke-width="0.85"/>
<line x1="589.6" y1="552.1" x2="501.7" y2="660.2" stroke="#9a9a9a" stroke-width="0.85"/>
<line x1="595.5" y1="599.7" x2="559.5" y2="623.5" stroke="#9a9a9a" stroke-width="0.85"/>
<line x1="595.5" y1="599.7" x2="501.7" y2="660.2" stroke="#9a9a9a" stroke-width="0.85"/>
<line x1="559.5" y1="623.5" x2="501.7" y2="660.2" stroke="#9a9a9a" stroke-width="0.85"/>
<line x1="405" y1="652.6" x2="501.7" y2="660.2" stroke="#9a9a9a" stroke-width="0.85"/>
<circle cx="169" cy="451.7" r="10.4" fill="#F8C46C"/>
<circle cx="92.6" cy="465.2" r="9.5" fill="#F8C46C"/>
<circle cx="226.4" cy="497.2" r="9.8" fill="#F8C46C"/>
<circle cx="45.8" cy="516.9" r="9.3" fill="#F26670"/>
<circle cx="232.3" cy="531.3" r="9.2" fill="#FBC9D0"/>
<circle cx="104.5" cy="563.3" r="9.4" fill="#F26670"/>
<circle cx="242.7" cy="577" r="9" fill="#FBC9D0"/>
<circle cx="47.7" cy="612.1" r="9.3" fill="#F26670"/>
<circle cx="73.6" cy="645.7" r="9.3" fill="#F26670"/>
<circle cx="209" cy="643.5" r="9.4" fill="#A8C9EA"/>
<circle cx="151.4" cy="665.7" r="9.5" fill="#A8C9EA"/>
<circle cx="494" cy="456.1" r="9.8" fill="#B7E497"/>
<circle cx="414.8" cy="468.2" r="9.8" fill="#F26670"/>
<circle cx="564.7" cy="500.8" r="9.5" fill="#B7E497"/>
<circle cx="378.1" cy="524.6" r="14.6" fill="#F26670"/>
<circle cx="391.8" cy="559" r="9.3" fill="#F26670"/>
<circle cx="589.6" cy="552.1" r="9.5" fill="#B7E497"/>
<circle cx="595.5" cy="599.7" r="9.8" fill="#F8C46C"/>
<circle cx="559.5" cy="623.5" r="10.7" fill="#F8C46C"/>
<circle cx="405" cy="652.6" r="11.2" fill="#FBC9D0"/>
<circle cx="501.7" cy="660.2" r="9.5" fill="#CFCDEF"/>
<text x="168.9" y="454.7" font-size="9.85" text-anchor="middle" font-style="italic" fill="#111">Veillonella parvula</text>
<text x="90.8" y="465" font-size="9.85" text-anchor="middle" font-style="italic" fill="#111">Streptococcus</text>
<text x="91" y="479" font-size="9.85" text-anchor="middle" font-style="italic" fill="#111">sanguinis</text>
<text x="225.8" y="500.2" font-size="9.85" text-anchor="middle" font-style="italic" fill="#111">Oribacterium sinus</text>
<text x="43.3" y="513.1" font-size="9.85" text-anchor="middle" font-style="italic" fill="#111">Cardiobacterium</text>
<text x="44" y="527.4" font-size="9.85" text-anchor="middle" font-style="italic" fill="#111">hominis</text>
<text x="231.4" y="534.2" font-size="9.85" text-anchor="middle" font-style="italic" fill="#111">Prevotella bivia</text>
<text x="102.2" y="558.9" font-size="9.85" text-anchor="middle" font-style="italic" fill="#111">Aggregatibacter</text>
<text x="102.2" y="573.4" font-size="9.85" text-anchor="middle" font-style="italic" fill="#111">aphrophilus</text>
<text x="242" y="579.9" font-size="9.85" text-anchor="middle" font-style="italic" fill="#111">Prevotella amnii</text>
<text x="47.2" y="615.2" font-size="9.85" text-anchor="middle" font-style="italic" fill="#111">Kingella oralis</text>
<text x="72.9" y="648.7" font-size="9.85" text-anchor="middle" font-style="italic" fill="#111">Acinetobacter lwoffii</text>
<text x="207.7" y="646.5" font-size="9.85" text-anchor="middle" font-style="italic" fill="#111">Atopobium rimae</text>
<text x="149.2" y="661.7" font-size="9.85" text-anchor="middle" font-style="italic" fill="#111">Corynebacterium</text>
<text x="149.2" y="675.5" font-size="9.85" text-anchor="middle" font-style="italic" fill="#111">matruchotii</text>
<text x="491.9" y="452.3" font-size="9.85" text-anchor="middle" font-style="italic" fill="#111">Leptotrichia</text>
<text x="491.9" y="466.7" font-size="9.85" text-anchor="middle" font-style="italic" fill="#111">unclassified</text>
<text x="412.6" y="464.5" font-size="9.85" text-anchor="middle" font-style="italic" fill="#111">Campylobacter</text>
<text x="412.6" y="478.7" font-size="9.85" text-anchor="middle" font-style="italic" fill="#111">showae</text>
<text x="563.8" y="503.7" font-size="9.85" text-anchor="middle" font-style="italic" fill="#111">Leptotrichia hofstadii</text>
<text x="375.5" y="520.9" font-size="9.85" text-anchor="middle" font-style="italic" fill="#111">Campylobacter</text>
<text x="367.1" y="532.7" font-size="9.85" text-anchor="middle" font-style="italic" fill="#111">concisus</text>
<text x="390.2" y="562" font-size="9.85" text-anchor="middle" font-style="italic" fill="#111">Campylobacter rectus</text>
<text x="587.8" y="555" font-size="9.85" text-anchor="middle" font-style="italic" fill="#111">Leptotrichia buccalis</text>
<text x="594" y="602.5" font-size="9.85" text-anchor="middle" font-style="italic" fill="#111">Selenomonas flueggei</text>
<text x="558.3" y="626.2" font-size="9.85" text-anchor="middle" font-style="italic" fill="#111">Streptococcus infantis</text>
<text x="402.6" y="649.2" font-size="9.85" text-anchor="middle" font-style="italic" fill="#111">Capnocytophaga</text>
<text x="403" y="663.4" font-size="9.85" text-anchor="middle" font-style="italic" fill="#111">gingivalis</text>
<text x="501.3" y="663.1" font-size="9.85" text-anchor="middle" font-style="italic" fill="#111">Treponema vincentii</text>
<line x1="683" y1="505.8" x2="719.1" y2="505.8" stroke="#b0b0b0" stroke-width="1.0" stroke-dasharray="9.2 5.4"/>
<text x="725.6" y="509.3" font-size="9.85" text-anchor="start" fill="#111">Negative</text>
<line x1="683" y1="519.2" x2="719.1" y2="519.2" stroke="#b0b0b0" stroke-width="1.0"/>
<text x="725.6" y="521.1" font-size="9.85" text-anchor="start" fill="#111">Positive</text>
<text x="688.9" y="554.6" font-size="9.85" text-anchor="start" fill="#111">Phylum</text>
<circle cx="692" cy="566.8" r="5.7" fill="#F8C46C"/>
<text x="701.2" y="570.3" font-size="9.85" text-anchor="start" fill="#111">Firmicutes</text>
<circle cx="692" cy="579" r="5.7" fill="#B7E497"/>
<text x="701.2" y="582.5" font-size="9.85" text-anchor="start" fill="#111">Fusobacteria</text>
<circle cx="692" cy="591.2" r="5.7" fill="#F26670"/>
<text x="701.2" y="594.7" font-size="9.85" text-anchor="start" fill="#111">Proteobacteria</text>
<circle cx="692" cy="603.4" r="5.7" fill="#CFCDEF"/>
<text x="701.2" y="606.9" font-size="9.85" text-anchor="start" fill="#111">Spirochaetes</text>
<circle cx="692" cy="615.6" r="5.7" fill="#A8C9EA"/>
<text x="701.2" y="619.1" font-size="9.85" text-anchor="start" fill="#111">Actinobacteria</text>
<circle cx="692" cy="627.8" r="5.7" fill="#FBC9D0"/>
<text x="701.2" y="631.3" font-size="9.85" text-anchor="start" fill="#111">Bacteroidetes</text>
<g transform="translate(129 392) scale(0.42 0.45)"><rect x="0" y="0" width="100" height="100" fill="#EDC3A7"/><path d="M0,0 L10,0 Q4,14 5,30 L0,34 Z" fill="#2c1a1a"/><path d="M100,0 L90,0 Q96,14 95,30 L100,34 Z" fill="#2c1a1a"/><path d="M4,0 L96,0 C98,25 96,45 90,62 C84,78 76,92 62,97 C55,99 45,99 38,97 C24,92 16,78 10,62 C4,45 2,25 4,0 Z" fill="url(#tgc)"/></g>
<g transform="translate(463 391) scale(0.42 0.46)"><rect x="0" y="0" width="100" height="100" fill="#C48F84"/><path d="M0,0 L16,0 Q6,10 4,28 L0,32 Z" fill="#2a1a1a"/><path d="M100,0 L84,0 Q94,10 96,28 L100,32 Z" fill="#2a1a1a"/><path d="M8,0 L92,0 C98,25 99,45 94,62 C87,84 70,97 50,98 C30,97 13,84 6,62 C1,45 2,25 8,0 Z" fill="url(#tgp)"/><circle cx="56.4" cy="48.2" r="1.0" fill="#D7768E" opacity="0.7"/><circle cx="40.7" cy="52.0" r="1.0" fill="#D7768E" opacity="0.7"/><circle cx="44.3" cy="75.0" r="0.7" fill="#D7768E" opacity="0.7"/><circle cx="47.6" cy="76.4" r="1.1" fill="#D7768E" opacity="0.7"/><circle cx="57.0" cy="13.4" r="1.3" fill="#D7768E" opacity="0.7"/><circle cx="74.2" cy="60.5" r="0.7" fill="#D7768E" opacity="0.7"/><circle cx="44.6" cy="11.2" r="1.0" fill="#D7768E" opacity="0.7"/><circle cx="60.3" cy="29.8" r="0.6" fill="#D7768E" opacity="0.7"/><circle cx="54.0" cy="48.0" r="0.9" fill="#D7768E" opacity="0.7"/><circle cx="61.3" cy="62.5" r="0.9" fill="#D7768E" opacity="0.7"/><circle cx="32.8" cy="64.3" r="0.9" fill="#D7768E" opacity="0.7"/><circle cx="39.6" cy="91.6" r="1.2" fill="#D7768E" opacity="0.7"/><circle cx="45.1" cy="33.7" r="0.6" fill="#D7768E" opacity="0.7"/><circle cx="61.3" cy="72.8" r="0.9" fill="#D7768E" opacity="0.7"/><circle cx="59.6" cy="88.6" r="1.2" fill="#D7768E" opacity="0.7"/><circle cx="36.2" cy="10.0" r="0.7" fill="#D7768E" opacity="0.7"/><circle cx="39.8" cy="42.6" r="0.7" fill="#D7768E" opacity="0.7"/><circle cx="29.7" cy="32.1" r="0.7" fill="#D7768E" opacity="0.7"/><circle cx="28.6" cy="37.3" r="1.3" fill="#D7768E" opacity="0.7"/><circle cx="50.4" cy="30.2" r="0.7" fill="#D7768E" opacity="0.7"/><circle cx="41.5" cy="14.9" r="1.2" fill="#D7768E" opacity="0.7"/><circle cx="59.6" cy="46.7" r="0.7" fill="#D7768E" opacity="0.7"/><circle cx="69.6" cy="70.0" r="0.7" fill="#D7768E" opacity="0.7"/><circle cx="44.8" cy="44.5" r="0.7" fill="#D7768E" opacity="0.7"/><circle cx="43.4" cy="32.1" r="1.3" fill="#D7768E" opacity="0.7"/><circle cx="54.8" cy="82.6" r="0.7" fill="#D7768E" opacity="0.7"/><circle cx="36.3" cy="42.3" r="1.2" fill="#D7768E" opacity="0.7"/><circle cx="45.1" cy="91.1" r="0.7" fill="#D7768E" opacity="0.7"/><circle cx="43.9" cy="31.2" r="1.1" fill="#D7768E" opacity="0.7"/><circle cx="43.2" cy="16.0" r="0.7" fill="#D7768E" opacity="0.7"/><circle cx="62.5" cy="57.8" r="0.8" fill="#D7768E" opacity="0.7"/><circle cx="36.8" cy="47.2" r="1.3" fill="#D7768E" opacity="0.7"/><circle cx="40.3" cy="49.7" r="1.0" fill="#D7768E" opacity="0.7"/><circle cx="57.2" cy="22.6" r="1.2" fill="#D7768E" opacity="0.7"/><circle cx="42.0" cy="77.1" r="0.8" fill="#D7768E" opacity="0.7"/><circle cx="60.3" cy="87.1" r="0.7" fill="#D7768E" opacity="0.7"/><circle cx="67.1" cy="44.6" r="0.7" fill="#D7768E" opacity="0.7"/><circle cx="34.4" cy="13.2" r="1.3" fill="#D7768E" opacity="0.7"/><circle cx="51.9" cy="31.1" r="1.2" fill="#D7768E" opacity="0.7"/><circle cx="76.5" cy="58.9" r="0.8" fill="#D7768E" opacity="0.7"/><circle cx="62.3" cy="15.6" r="0.8" fill="#D7768E" opacity="0.7"/><circle cx="74.2" cy="55.9" r="1.2" fill="#D7768E" opacity="0.7"/><circle cx="39.6" cy="85.2" r="0.7" fill="#D7768E" opacity="0.7"/><circle cx="40.9" cy="11.4" r="0.8" fill="#D7768E" opacity="0.7"/><circle cx="44.3" cy="24.5" r="0.9" fill="#D7768E" opacity="0.7"/><circle cx="52.0" cy="56.9" r="0.7" fill="#D7768E" opacity="0.7"/><circle cx="77.3" cy="63.9" r="1.1" fill="#D7768E" opacity="0.7"/><circle cx="41.9" cy="12.9" r="0.6" fill="#D7768E" opacity="0.7"/><circle cx="45.3" cy="84.6" r="1.1" fill="#D7768E" opacity="0.7"/><circle cx="53.4" cy="62.2" r="0.9" fill="#D7768E" opacity="0.7"/><circle cx="49.2" cy="69.9" r="0.8" fill="#D7768E" opacity="0.7"/><circle cx="56.7" cy="54.8" r="1.1" fill="#D7768E" opacity="0.7"/><circle cx="50.0" cy="83.8" r="1.1" fill="#D7768E" opacity="0.7"/><circle cx="41.3" cy="85.0" r="0.8" fill="#D7768E" opacity="0.7"/><circle cx="21.1" cy="66.2" r="1.2" fill="#D7768E" opacity="0.7"/><circle cx="62.2" cy="74.8" r="1.2" fill="#D7768E" opacity="0.7"/><circle cx="37.2" cy="57.0" r="1.0" fill="#D7768E" opacity="0.7"/><circle cx="33.4" cy="59.9" r="0.7" fill="#D7768E" opacity="0.7"/><circle cx="65.1" cy="62.4" r="1.3" fill="#D7768E" opacity="0.7"/><circle cx="70.0" cy="41.9" r="1.1" fill="#D7768E" opacity="0.7"/><circle cx="31.2" cy="57.6" r="0.9" fill="#D7768E" opacity="0.7"/><circle cx="53.7" cy="71.5" r="0.6" fill="#D7768E" opacity="0.7"/><circle cx="44.0" cy="59.3" r="0.9" fill="#D7768E" opacity="0.7"/><circle cx="53.3" cy="50.8" r="1.0" fill="#D7768E" opacity="0.7"/><circle cx="49.9" cy="34.7" r="1.1" fill="#D7768E" opacity="0.7"/><circle cx="52.6" cy="26.6" r="0.7" fill="#D7768E" opacity="0.7"/><circle cx="70.7" cy="46.2" r="1.2" fill="#D7768E" opacity="0.7"/><circle cx="36.1" cy="36.8" r="1.1" fill="#D7768E" opacity="0.7"/><circle cx="55.7" cy="76.1" r="1.2" fill="#D7768E" opacity="0.7"/><circle cx="67.1" cy="82.2" r="0.9" fill="#D7768E" opacity="0.7"/><circle cx="37.1" cy="21.2" r="0.9" fill="#D7768E" opacity="0.7"/><circle cx="42.6" cy="78.6" r="1.2" fill="#D7768E" opacity="0.7"/><circle cx="40.0" cy="32.7" r="0.7" fill="#D7768E" opacity="0.7"/><circle cx="48.1" cy="43.9" r="1.0" fill="#D7768E" opacity="0.7"/><circle cx="61.7" cy="50.5" r="0.8" fill="#D7768E" opacity="0.7"/><circle cx="75.6" cy="47.1" r="0.7" fill="#D7768E" opacity="0.7"/><circle cx="53.5" cy="68.1" r="1.0" fill="#D7768E" opacity="0.7"/><circle cx="46.5" cy="35.3" r="1.2" fill="#D7768E" opacity="0.7"/><circle cx="59.1" cy="47.3" r="0.6" fill="#D7768E" opacity="0.7"/><circle cx="51.1" cy="78.0" r="0.8" fill="#D7768E" opacity="0.7"/><circle cx="53.3" cy="61.6" r="0.9" fill="#D7768E" opacity="0.7"/><circle cx="54.1" cy="61.7" r="1.1" fill="#D7768E" opacity="0.7"/><circle cx="65.1" cy="66.1" r="0.7" fill="#D7768E" opacity="0.7"/><circle cx="51.1" cy="48.7" r="1.1" fill="#D7768E" opacity="0.7"/><circle cx="52.3" cy="24.7" r="0.8" fill="#D7768E" opacity="0.7"/><circle cx="35.1" cy="52.7" r="1.0" fill="#D7768E" opacity="0.7"/><circle cx="71.7" cy="72.0" r="0.9" fill="#D7768E" opacity="0.7"/><circle cx="59.6" cy="17.2" r="1.3" fill="#D7768E" opacity="0.7"/><circle cx="62.8" cy="61.3" r="1.2" fill="#D7768E" opacity="0.7"/><circle cx="63.6" cy="40.9" r="1.0" fill="#D7768E" opacity="0.7"/><circle cx="29.1" cy="48.0" r="1.1" fill="#D7768E" opacity="0.7"/><circle cx="57.6" cy="77.1" r="1.0" fill="#D7768E" opacity="0.7"/><circle cx="76.1" cy="68.8" r="0.7" fill="#D7768E" opacity="0.7"/><circle cx="22.0" cy="54.0" r="1.2" fill="#D7768E" opacity="0.7"/><circle cx="34.0" cy="80.2" r="0.8" fill="#D7768E" opacity="0.7"/><circle cx="83.7" cy="16.8" r="0.9" fill="#D7768E" opacity="0.7"/><circle cx="22.4" cy="50.0" r="0.6" fill="#D7768E" opacity="0.7"/><circle cx="41.0" cy="76.3" r="0.6" fill="#D7768E" opacity="0.7"/><circle cx="53.2" cy="37.5" r="1.2" fill="#D7768E" opacity="0.7"/><circle cx="40.0" cy="21.5" r="0.7" fill="#D7768E" opacity="0.7"/><circle cx="47.2" cy="66.5" r="1.3" fill="#D7768E" opacity="0.7"/><circle cx="51.9" cy="28.2" r="1.0" fill="#D7768E" opacity="0.7"/><circle cx="43.1" cy="62.4" r="1.0" fill="#D7768E" opacity="0.7"/><circle cx="36.3" cy="41.3" r="1.2" fill="#D7768E" opacity="0.7"/><circle cx="44.6" cy="83.8" r="0.7" fill="#D7768E" opacity="0.7"/><circle cx="76.4" cy="53.0" r="1.0" fill="#D7768E" opacity="0.7"/><circle cx="14.0" cy="26.5" r="1.0" fill="#D7768E" opacity="0.7"/><circle cx="26.8" cy="12.3" r="1.3" fill="#D7768E" opacity="0.7"/><circle cx="49.5" cy="52.3" r="0.9" fill="#D7768E" opacity="0.7"/><circle cx="56.9" cy="50.3" r="1.1" fill="#D7768E" opacity="0.7"/><circle cx="29.2" cy="15.4" r="1.0" fill="#D7768E" opacity="0.7"/><circle cx="72.0" cy="32.1" r="0.9" fill="#D7768E" opacity="0.7"/><circle cx="62.7" cy="76.9" r="1.2" fill="#D7768E" opacity="0.7"/><circle cx="63.0" cy="49.1" r="0.8" fill="#D7768E" opacity="0.7"/><circle cx="58.5" cy="85.9" r="0.7" fill="#D7768E" opacity="0.7"/><circle cx="72.0" cy="73.9" r="0.6" fill="#D7768E" opacity="0.7"/><circle cx="54.2" cy="66.3" r="0.8" fill="#D7768E" opacity="0.7"/><circle cx="61.5" cy="39.1" r="1.0" fill="#D7768E" opacity="0.7"/><circle cx="71.8" cy="20.1" r="1.0" fill="#D7768E" opacity="0.7"/><circle cx="66.9" cy="30.5" r="0.7" fill="#D7768E" opacity="0.7"/><circle cx="32.1" cy="40.8" r="0.9" fill="#D7768E" opacity="0.7"/><circle cx="46.5" cy="53.4" r="0.7" fill="#D7768E" opacity="0.7"/><circle cx="56.8" cy="62.4" r="1.0" fill="#D7768E" opacity="0.7"/><circle cx="24.4" cy="29.1" r="1.1" fill="#D7768E" opacity="0.7"/><circle cx="28.4" cy="76.5" r="1.2" fill="#D7768E" opacity="0.7"/><circle cx="44.1" cy="85.7" r="0.8" fill="#D7768E" opacity="0.7"/><circle cx="56.9" cy="29.6" r="1.1" fill="#D7768E" opacity="0.7"/><circle cx="44.1" cy="31.3" r="0.7" fill="#D7768E" opacity="0.7"/><circle cx="58.8" cy="74.8" r="0.7" fill="#D7768E" opacity="0.7"/><circle cx="34.5" cy="43.0" r="1.1" fill="#D7768E" opacity="0.7"/><circle cx="61.3" cy="66.0" r="1.2" fill="#D7768E" opacity="0.7"/><circle cx="51.3" cy="89.4" r="0.7" fill="#D7768E" opacity="0.7"/><circle cx="21.4" cy="51.2" r="1.1" fill="#D7768E" opacity="0.7"/><circle cx="49.0" cy="25.5" r="0.6" fill="#D7768E" opacity="0.7"/><circle cx="53.7" cy="55.2" r="1.0" fill="#D7768E" opacity="0.7"/><circle cx="52.9" cy="56.6" r="0.7" fill="#D7768E" opacity="0.7"/><circle cx="54.6" cy="78.9" r="1.3" fill="#D7768E" opacity="0.7"/><circle cx="60.5" cy="86.0" r="0.7" fill="#D7768E" opacity="0.7"/><circle cx="65.9" cy="72.7" r="0.8" fill="#D7768E" opacity="0.7"/><circle cx="30.0" cy="45.3" r="1.0" fill="#D7768E" opacity="0.7"/><circle cx="54.2" cy="11.1" r="1.1" fill="#D7768E" opacity="0.7"/><circle cx="56.0" cy="47.2" r="1.1" fill="#D7768E" opacity="0.7"/><circle cx="41.1" cy="43.2" r="0.7" fill="#D7768E" opacity="0.7"/><circle cx="60.4" cy="11.3" r="1.2" fill="#D7768E" opacity="0.7"/><circle cx="67.5" cy="75.7" r="1.1" fill="#D7768E" opacity="0.7"/><circle cx="65.4" cy="43.2" r="1.0" fill="#D7768E" opacity="0.7"/><circle cx="31.6" cy="51.4" r="1.3" fill="#D7768E" opacity="0.7"/><circle cx="54.4" cy="84.7" r="1.1" fill="#D7768E" opacity="0.7"/><circle cx="37.6" cy="73.8" r="1.2" fill="#D7768E" opacity="0.7"/><circle cx="70.2" cy="67.0" r="1.1" fill="#D7768E" opacity="0.7"/><path d="M50,8 L50,60" stroke="#DD8FA0" stroke-width="3" opacity="0.5"/></g>
<text x="11.2" y="721.94" font-size="12.8" text-anchor="middle" fill="#000">D</text>
<rect x="27.5" y="743" width="148.6" height="166.4" fill="#fff" stroke="none" stroke-width="0.9"/>
<line x1="27.5" y1="877.68" x2="176.1" y2="877.68" stroke="#F0F0F0" stroke-width="0.6"/>
<line x1="27.5" y1="829.83" x2="176.1" y2="829.83" stroke="#F0F0F0" stroke-width="0.6"/>
<line x1="27.5" y1="781.98" x2="176.1" y2="781.98" stroke="#F0F0F0" stroke-width="0.6"/>
<line x1="27.5" y1="901.6" x2="176.1" y2="901.6" stroke="#E8E8E8" stroke-width="1.0"/>
<line x1="27.5" y1="853.75" x2="176.1" y2="853.75" stroke="#E8E8E8" stroke-width="1.0"/>
<line x1="27.5" y1="805.9" x2="176.1" y2="805.9" stroke="#E8E8E8" stroke-width="1.0"/>
<line x1="27.5" y1="758.05" x2="176.1" y2="758.05" stroke="#E8E8E8" stroke-width="1.0"/>
<line x1="68.1" y1="743" x2="68.1" y2="909.4" stroke="#E8E8E8" stroke-width="1.0"/>
<line x1="135.7" y1="743" x2="135.7" y2="909.4" stroke="#E8E8E8" stroke-width="1.0"/>
<line x1="25.1" y1="901.6" x2="27.5" y2="901.6" stroke="#333" stroke-width="0.8"/>
<text x="24.6" y="905.1" font-size="9.85" text-anchor="end" fill="#4d4d4d">0.0</text>
<line x1="25.1" y1="853.75" x2="27.5" y2="853.75" stroke="#333" stroke-width="0.8"/>
<text x="24.6" y="857.25" font-size="9.85" text-anchor="end" fill="#4d4d4d">0.1</text>
<line x1="25.1" y1="805.9" x2="27.5" y2="805.9" stroke="#333" stroke-width="0.8"/>
<text x="24.6" y="809.4" font-size="9.85" text-anchor="end" fill="#4d4d4d">0.2</text>
<line x1="25.1" y1="758.05" x2="27.5" y2="758.05" stroke="#333" stroke-width="0.8"/>
<text x="24.6" y="761.55" font-size="9.85" text-anchor="end" fill="#4d4d4d">0.3</text>
<line x1="68.1" y1="909.4" x2="68.1" y2="912" stroke="#333" stroke-width="0.8"/>
<line x1="135.7" y1="909.4" x2="135.7" y2="912" stroke="#333" stroke-width="0.8"/>
<text x="102.5" y="736.2" font-size="9.85" text-anchor="middle" font-style="italic" fill="#111">Cardiobacterium hominis</text>
<text x="102.5" y="751.2" font-size="9.85" text-anchor="middle" fill="#111"><tspan font-style="italic">P</tspan> = 0.03</text>
<line x1="67.6" y1="752.5" x2="135.7" y2="752.5" stroke="#111" stroke-width="1.0"/>
<line x1="67.6" y1="752.2" x2="67.6" y2="756.8" stroke="#111" stroke-width="0.9"/>
<line x1="135.7" y1="752.2" x2="135.7" y2="756.8" stroke="#111" stroke-width="0.9"/>
<line x1="68.2" y1="874.5" x2="68.2" y2="890.6" stroke="#333" stroke-width="0.9"/>
<line x1="68.2" y1="897.9" x2="68.2" y2="901.6" stroke="#333" stroke-width="0.9"/>
<rect x="42.4" y="890.6" width="51.6" height="7.3" fill="#F8776F" stroke="#333" stroke-width="0.9"/>
<line x1="42.4" y1="893.6" x2="94" y2="893.6" stroke="#333" stroke-width="1.1700000000000002"/>
<line x1="135.25" y1="889.9" x2="135.25" y2="896.8" stroke="#333" stroke-width="0.9"/>
<line x1="135.25" y1="901.4" x2="135.25" y2="901.6" stroke="#333" stroke-width="0.9"/>
<rect x="110" y="896.8" width="50.5" height="4.6" fill="#52C6C6" stroke="#333" stroke-width="0.9"/>
<line x1="110" y1="899.6" x2="160.5" y2="899.6" stroke="#333" stroke-width="1.1700000000000002"/>
<circle cx="69.9" cy="756.8" r="2.3" fill="#2b2b2b"/>
<circle cx="70.4" cy="841.3" r="2.3" fill="#2b2b2b"/>
<circle cx="70.4" cy="843.6" r="2.3" fill="#2b2b2b"/>
<circle cx="70.4" cy="869.5" r="2.3" fill="#2b2b2b"/>
<circle cx="70.4" cy="870.6" r="2.3" fill="#2b2b2b"/>
<circle cx="137.6" cy="806.2" r="2.3" fill="#2b2b2b"/>
<circle cx="137.6" cy="872.7" r="2.3" fill="#2b2b2b"/>
<circle cx="137.6" cy="886.7" r="2.3" fill="#2b2b2b"/>
<circle cx="71.8" cy="756.8" r="2.3" fill="#E4321F"/>
<circle cx="60.3" cy="840.8" r="2.3" fill="#E4321F"/>
<circle cx="82.5" cy="843.6" r="2.3" fill="#E4321F"/>
<circle cx="61.5" cy="869.9" r="2.3" fill="#E4321F"/>
<circle cx="66.5" cy="869.9" r="2.3" fill="#E4321F"/>
<circle cx="88.3" cy="868.8" r="2.3" fill="#E4321F"/>
<circle cx="68.1" cy="878" r="2.3" fill="#E4321F"/>
<circle cx="58.5" cy="878.7" r="2.3" fill="#E4321F"/>
<circle cx="115.8" cy="806.2" r="2.3" fill="#E4321F"/>
<circle cx="147.9" cy="872.7" r="2.3" fill="#E4321F"/>
<circle cx="115.3" cy="888.3" r="2.3" fill="#E4321F"/>
<circle cx="121.5" cy="886.7" r="2.3" fill="#E4321F"/>
<circle cx="131.8" cy="887.1" r="2.3" fill="#E4321F"/>
<circle cx="144.5" cy="889.9" r="2.3" fill="#E4321F"/>
<circle cx="126.1" cy="891.3" r="2.3" fill="#E4321F"/>
<circle cx="128.4" cy="891.7" r="2.3" fill="#E4321F"/>
<circle cx="55.37" cy="894.5" r="2.3" fill="#E4321F"/>
<circle cx="62.24" cy="895.38" r="2.3" fill="#E4321F"/>
<circle cx="75.54" cy="887.46" r="2.3" fill="#E4321F"/>
<circle cx="43.68" cy="898.81" r="2.3" fill="#E4321F"/>
<circle cx="56.49" cy="889.94" r="2.3" fill="#E4321F"/>
<circle cx="94.77" cy="893.41" r="2.3" fill="#E4321F"/>
<circle cx="86.5" cy="893.5" r="2.3" fill="#E4321F"/>
<circle cx="76.23" cy="888.71" r="2.3" fill="#E4321F"/>
<circle cx="76.01" cy="899.26" r="2.3" fill="#E4321F"/>
<circle cx="70.21" cy="897.4" r="2.3" fill="#E4321F"/>
<circle cx="77.91" cy="887.44" r="2.3" fill="#E4321F"/>
<circle cx="82.43" cy="895.19" r="2.3" fill="#E4321F"/>
<circle cx="58.67" cy="886.96" r="2.3" fill="#E4321F"/>
<circle cx="88.01" cy="893.45" r="2.3" fill="#E4321F"/>
<circle cx="80.38" cy="899.42" r="2.3" fill="#E4321F"/>
<circle cx="80.13" cy="900.04" r="2.3" fill="#E4321F"/>
<circle cx="63.54" cy="898.27" r="2.3" fill="#E4321F"/>
<circle cx="66.12" cy="900.25" r="2.3" fill="#E4321F"/>
<circle cx="88.7" cy="887.93" r="2.3" fill="#E4321F"/>
<circle cx="50.07" cy="889.69" r="2.3" fill="#E4321F"/>
<circle cx="93.2" cy="892.91" r="2.3" fill="#E4321F"/>
<circle cx="75.59" cy="890.93" r="2.3" fill="#E4321F"/>
<circle cx="69.38" cy="892.17" r="2.3" fill="#E4321F"/>
<circle cx="61.25" cy="895.1" r="2.3" fill="#E4321F"/>
<circle cx="73.38" cy="899.79" r="2.3" fill="#E4321F"/>
<circle cx="78.46" cy="900.16" r="2.3" fill="#E4321F"/>
<circle cx="87.53" cy="901.07" r="2.3" fill="#E4321F"/>
<circle cx="77.91" cy="888.9" r="2.3" fill="#E4321F"/>
<circle cx="87.75" cy="900.68" r="2.3" fill="#E4321F"/>
<circle cx="90.04" cy="894.87" r="2.3" fill="#E4321F"/>
<circle cx="80.12" cy="889.6" r="2.3" fill="#E4321F"/>
<circle cx="86.24" cy="894.93" r="2.3" fill="#E4321F"/>
<circle cx="57.82" cy="887.43" r="2.3" fill="#E4321F"/>
<circle cx="87.41" cy="901.05" r="2.3" fill="#E4321F"/>
<circle cx="47.6" cy="898.27" r="2.3" fill="#E4321F"/>
<circle cx="64.34" cy="888.72" r="2.3" fill="#E4321F"/>
<circle cx="58.28" cy="897.8" r="2.3" fill="#E4321F"/>
<circle cx="88.38" cy="887.15" r="2.3" fill="#E4321F"/>
<circle cx="74.96" cy="887.16" r="2.3" fill="#E4321F"/>
<circle cx="80.36" cy="891.37" r="2.3" fill="#E4321F"/>
<circle cx="88.81" cy="900.92" r="2.3" fill="#E4321F"/>
<circle cx="69.28" cy="901.18" r="2.3" fill="#E4321F"/>
<circle cx="59.1" cy="887.63" r="2.3" fill="#E4321F"/>
<circle cx="74.19" cy="886.96" r="2.3" fill="#E4321F"/>
<circle cx="53.26" cy="892.5" r="2.3" fill="#E4321F"/>
<circle cx="74.74" cy="888.8" r="2.3" fill="#E4321F"/>
<circle cx="45.21" cy="899.26" r="2.3" fill="#E4321F"/>
<circle cx="59.32" cy="900.59" r="2.3" fill="#E4321F"/>
<circle cx="157.63" cy="898.08" r="2.3" fill="#E4321F"/>
<circle cx="134.94" cy="898.86" r="2.3" fill="#E4321F"/>
<circle cx="144.48" cy="899.28" r="2.3" fill="#E4321F"/>
<circle cx="140.08" cy="899.41" r="2.3" fill="#E4321F"/>
<circle cx="159.91" cy="898.79" r="2.3" fill="#E4321F"/>
<circle cx="133.42" cy="899.96" r="2.3" fill="#E4321F"/>
<circle cx="123.36" cy="897.66" r="2.3" fill="#E4321F"/>
<circle cx="161.85" cy="898.87" r="2.3" fill="#E4321F"/>
<circle cx="139.52" cy="896.06" r="2.3" fill="#E4321F"/>
<circle cx="132.59" cy="899.19" r="2.3" fill="#E4321F"/>
<circle cx="112.04" cy="899.39" r="2.3" fill="#E4321F"/>
<circle cx="143.87" cy="896.33" r="2.3" fill="#E4321F"/>
<circle cx="143.62" cy="898.56" r="2.3" fill="#E4321F"/>
<circle cx="146.32" cy="897.94" r="2.3" fill="#E4321F"/>
<circle cx="147.76" cy="900.06" r="2.3" fill="#E4321F"/>
<circle cx="112.15" cy="896.33" r="2.3" fill="#E4321F"/>
<circle cx="146.15" cy="901.3" r="2.3" fill="#E4321F"/>
<circle cx="124.06" cy="898.51" r="2.3" fill="#E4321F"/>
<circle cx="141.82" cy="897.76" r="2.3" fill="#E4321F"/>
<circle cx="129.93" cy="897.72" r="2.3" fill="#E4321F"/>
<circle cx="130.2" cy="899.28" r="2.3" fill="#E4321F"/>
<circle cx="126.62" cy="898.07" r="2.3" fill="#E4321F"/>
<circle cx="151.16" cy="896.15" r="2.3" fill="#E4321F"/>
<circle cx="140.6" cy="900.04" r="2.3" fill="#E4321F"/>
<circle cx="127.12" cy="897.22" r="2.3" fill="#E4321F"/>
<circle cx="152.8" cy="897.31" r="2.3" fill="#E4321F"/>
<circle cx="120.74" cy="898.39" r="2.3" fill="#E4321F"/>
<circle cx="147.3" cy="896.56" r="2.3" fill="#E4321F"/>
<circle cx="127.74" cy="897.84" r="2.3" fill="#E4321F"/>
<circle cx="154.34" cy="898.41" r="2.3" fill="#E4321F"/>
<circle cx="164.5" cy="898.2" r="2.3" fill="#E4321F"/>
<rect x="27.5" y="743" width="148.6" height="166.4" fill="none" stroke="#333" stroke-width="0.9"/>
<text x="7.1" y="831.2" font-size="9.85" text-anchor="middle" fill="#1a1a1a" transform="rotate(-90 7.1 831.2)">Relative abundance (%)</text>
<line x1="11" y1="921.4" x2="11" y2="933.6" stroke="#333" stroke-width="0.9"/>
<rect x="6.4" y="923.8" width="9.2" height="7.4" fill="#F8776F" stroke="#333" stroke-width="0.9"/>
<line x1="6.4" y1="927.5" x2="15.6" y2="927.5" stroke="#333" stroke-width="1.0"/>
<text x="20.2" y="931.2" font-size="9.85" fill="#111">Patients with bitter taste (<tspan font-style="italic">n</tspan> = 40)</text>
<line x1="11" y1="934.7" x2="11" y2="946.9" stroke="#333" stroke-width="0.9"/>
<rect x="6.4" y="937.1" width="9.2" height="7.4" fill="#52C6C6" stroke="#333" stroke-width="0.9"/>
<line x1="6.4" y1="940.8" x2="15.6" y2="940.8" stroke="#333" stroke-width="1.0"/>
<text x="20.2" y="944.3" font-size="9.85" fill="#111">Patients without bitter taste (<tspan font-style="italic">n</tspan> = 37)</text>
<rect x="212.4" y="742.4" width="144" height="166.5" fill="#fff" stroke="none" stroke-width="0.9"/>
<line x1="212.4" y1="882.17" x2="356.4" y2="882.17" stroke="#F0F0F0" stroke-width="0.6"/>
<line x1="212.4" y1="842.92" x2="356.4" y2="842.92" stroke="#F0F0F0" stroke-width="0.6"/>
<line x1="212.4" y1="803.67" x2="356.4" y2="803.67" stroke="#F0F0F0" stroke-width="0.6"/>
<line x1="212.4" y1="764.42" x2="356.4" y2="764.42" stroke="#F0F0F0" stroke-width="0.6"/>
<line x1="212.4" y1="901.8" x2="356.4" y2="901.8" stroke="#E8E8E8" stroke-width="1.0"/>
<line x1="212.4" y1="862.55" x2="356.4" y2="862.55" stroke="#E8E8E8" stroke-width="1.0"/>
<line x1="212.4" y1="823.3" x2="356.4" y2="823.3" stroke="#E8E8E8" stroke-width="1.0"/>
<line x1="212.4" y1="784.05" x2="356.4" y2="784.05" stroke="#E8E8E8" stroke-width="1.0"/>
<line x1="212.4" y1="744.8" x2="356.4" y2="744.8" stroke="#E8E8E8" stroke-width="1.0"/>
<line x1="251.6" y1="742.4" x2="251.6" y2="908.9" stroke="#E8E8E8" stroke-width="1.0"/>
<line x1="317.1" y1="742.4" x2="317.1" y2="908.9" stroke="#E8E8E8" stroke-width="1.0"/>
<line x1="210" y1="901.8" x2="212.4" y2="901.8" stroke="#333" stroke-width="0.8"/>
<text x="210.7" y="905.39" font-size="10.1" text-anchor="end" fill="#4d4d4d">0.00</text>
<line x1="210" y1="862.55" x2="212.4" y2="862.55" stroke="#333" stroke-width="0.8"/>
<text x="210.7" y="866.14" font-size="10.1" text-anchor="end" fill="#4d4d4d">0.25</text>
<line x1="210" y1="823.3" x2="212.4" y2="823.3" stroke="#333" stroke-width="0.8"/>
<text x="210.7" y="826.89" font-size="10.1" text-anchor="end" fill="#4d4d4d">0.50</text>
<line x1="210" y1="784.05" x2="212.4" y2="784.05" stroke="#333" stroke-width="0.8"/>
<text x="210.7" y="787.64" font-size="10.1" text-anchor="end" fill="#4d4d4d">0.75</text>
<line x1="210" y1="744.8" x2="212.4" y2="744.8" stroke="#333" stroke-width="0.8"/>
<text x="210.7" y="748.39" font-size="10.1" text-anchor="end" fill="#4d4d4d">1.00</text>
<line x1="251.6" y1="908.9" x2="251.6" y2="911.5" stroke="#333" stroke-width="0.8"/>
<line x1="317.1" y1="908.9" x2="317.1" y2="911.5" stroke="#333" stroke-width="0.8"/>
<text x="278.2" y="735" font-size="9.85" text-anchor="middle" font-style="italic" fill="#111">Selenomonas flueggei</text>
<text x="287.4" y="749.6" font-size="9.85" text-anchor="middle" fill="#111"><tspan font-style="italic">P</tspan> = 0.03</text>
<line x1="251.6" y1="751.5" x2="317.1" y2="751.5" stroke="#111" stroke-width="1.0"/>
<line x1="251.6" y1="750.6" x2="251.6" y2="755.2" stroke="#111" stroke-width="0.9"/>
<line x1="317.1" y1="750.6" x2="317.1" y2="755.2" stroke="#111" stroke-width="0.9"/>
<line x1="251.95" y1="844.8" x2="251.95" y2="865.3" stroke="#333" stroke-width="0.9"/>
<line x1="251.95" y1="895.1" x2="251.95" y2="901.6" stroke="#333" stroke-width="0.9"/>
<rect x="227.4" y="865.3" width="49.1" height="29.8" fill="#F8776F" stroke="#333" stroke-width="0.9"/>
<line x1="227.4" y1="884.2" x2="276.5" y2="884.2" stroke="#333" stroke-width="1.1700000000000002"/>
<line x1="317" y1="877.9" x2="317" y2="891.5" stroke="#333" stroke-width="0.9"/>
<line x1="317" y1="901.2" x2="317" y2="901.6" stroke="#333" stroke-width="0.9"/>
<rect x="292.2" y="891.5" width="49.6" height="9.7" fill="#52C6C6" stroke="#333" stroke-width="0.9"/>
<line x1="292.2" y1="896.8" x2="341.8" y2="896.8" stroke="#333" stroke-width="1.1700000000000002"/>
<circle cx="254" cy="756.2" r="2.3" fill="#2b2b2b"/>
<circle cx="254" cy="778.7" r="2.3" fill="#2b2b2b"/>
<circle cx="254" cy="798.6" r="2.3" fill="#2b2b2b"/>
<circle cx="254" cy="808.3" r="2.3" fill="#2b2b2b"/>
<circle cx="319.3" cy="785.3" r="2.3" fill="#2b2b2b"/>
<circle cx="320" cy="846.7" r="2.3" fill="#2b2b2b"/>
<circle cx="320" cy="857.6" r="2.3" fill="#2b2b2b"/>
<circle cx="320" cy="859.3" r="2.3" fill="#2b2b2b"/>
<circle cx="320" cy="869" r="2.3" fill="#2b2b2b"/>
<circle cx="239" cy="756.2" r="2.3" fill="#E4321F"/>
<circle cx="247.4" cy="778.7" r="2.3" fill="#E4321F"/>
<circle cx="231.7" cy="798.6" r="2.3" fill="#E4321F"/>
<circle cx="234.6" cy="808.3" r="2.3" fill="#E4321F"/>
<circle cx="251.6" cy="841.6" r="2.3" fill="#E4321F"/>
<circle cx="254.2" cy="852" r="2.3" fill="#E4321F"/>
<circle cx="263.2" cy="850.8" r="2.3" fill="#E4321F"/>
<circle cx="257.6" cy="858.6" r="2.3" fill="#E4321F"/>
<circle cx="232.9" cy="863.4" r="2.3" fill="#E4321F"/>
<circle cx="233.6" cy="867.3" r="2.3" fill="#E4321F"/>
<circle cx="243.8" cy="862.2" r="2.3" fill="#E4321F"/>
<circle cx="247" cy="861.7" r="2.3" fill="#E4321F"/>
<circle cx="242.6" cy="869.7" r="2.3" fill="#E4321F"/>
<circle cx="265.6" cy="869.7" r="2.3" fill="#E4321F"/>
<circle cx="258.3" cy="874.5" r="2.3" fill="#E4321F"/>
<circle cx="268" cy="876.2" r="2.3" fill="#E4321F"/>
<circle cx="271.6" cy="879.4" r="2.3" fill="#E4321F"/>
<circle cx="239" cy="881.1" r="2.3" fill="#E4321F"/>
<circle cx="245.5" cy="881.8" r="2.3" fill="#E4321F"/>
<circle cx="257.1" cy="882.3" r="2.3" fill="#E4321F"/>
<circle cx="233.4" cy="885.2" r="2.3" fill="#E4321F"/>
<circle cx="251.8" cy="886.6" r="2.3" fill="#E4321F"/>
<circle cx="260.8" cy="886.6" r="2.3" fill="#E4321F"/>
<circle cx="244.3" cy="890.3" r="2.3" fill="#E4321F"/>
<circle cx="229.3" cy="892.7" r="2.3" fill="#E4321F"/>
<circle cx="232.4" cy="892.7" r="2.3" fill="#E4321F"/>
<circle cx="259.5" cy="893.2" r="2.3" fill="#E4321F"/>
<circle cx="262" cy="896.3" r="2.3" fill="#E4321F"/>
<circle cx="265.6" cy="894.9" r="2.3" fill="#E4321F"/>
<circle cx="269.2" cy="894.4" r="2.3" fill="#E4321F"/>
<circle cx="275.3" cy="891.5" r="2.3" fill="#E4321F"/>
<circle cx="278.9" cy="889.5" r="2.3" fill="#E4321F"/>
<circle cx="276.5" cy="895.6" r="2.3" fill="#E4321F"/>
<circle cx="270.4" cy="898.7" r="2.3" fill="#E4321F"/>
<circle cx="255.2" cy="898.7" r="2.3" fill="#E4321F"/>
<circle cx="345" cy="785.3" r="2.3" fill="#E4321F"/>
<circle cx="316.9" cy="846.7" r="2.3" fill="#E4321F"/>
<circle cx="321.3" cy="856.1" r="2.3" fill="#E4321F"/>
<circle cx="302.6" cy="858.8" r="2.3" fill="#E4321F"/>
<circle cx="306" cy="857.4" r="2.3" fill="#E4321F"/>
<circle cx="301.9" cy="869" r="2.3" fill="#E4321F"/>
<circle cx="306.7" cy="875.8" r="2.3" fill="#E4321F"/>
<circle cx="308.4" cy="877.9" r="2.3" fill="#E4321F"/>
<circle cx="310.52" cy="890.89" r="2.3" fill="#E4321F"/>
<circle cx="327.2" cy="889.91" r="2.3" fill="#E4321F"/>
<circle cx="321.33" cy="893.57" r="2.3" fill="#E4321F"/>
<circle cx="296.96" cy="895.34" r="2.3" fill="#E4321F"/>
<circle cx="295.91" cy="894.42" r="2.3" fill="#E4321F"/>
<circle cx="297.56" cy="890.13" r="2.3" fill="#E4321F"/>
<circle cx="315.65" cy="899.34" r="2.3" fill="#E4321F"/>
<circle cx="300.31" cy="891.79" r="2.3" fill="#E4321F"/>
<circle cx="326" cy="900.85" r="2.3" fill="#E4321F"/>
<circle cx="323.43" cy="893.96" r="2.3" fill="#E4321F"/>
<circle cx="343.79" cy="889.58" r="2.3" fill="#E4321F"/>
<circle cx="337.78" cy="892.62" r="2.3" fill="#E4321F"/>
<circle cx="301.36" cy="890.47" r="2.3" fill="#E4321F"/>
<circle cx="309.73" cy="899.2" r="2.3" fill="#E4321F"/>
<circle cx="303.22" cy="896.27" r="2.3" fill="#E4321F"/>
<circle cx="326.58" cy="893.65" r="2.3" fill="#E4321F"/>
<circle cx="321.93" cy="889.78" r="2.3" fill="#E4321F"/>
<circle cx="297.04" cy="891.57" r="2.3" fill="#E4321F"/>
<circle cx="328.7" cy="894.34" r="2.3" fill="#E4321F"/>
<circle cx="310.02" cy="896.32" r="2.3" fill="#E4321F"/>
<circle cx="317.11" cy="892.75" r="2.3" fill="#E4321F"/>
<circle cx="334.51" cy="897.74" r="2.3" fill="#E4321F"/>
<circle cx="306.45" cy="896.18" r="2.3" fill="#E4321F"/>
<circle cx="320.79" cy="899.94" r="2.3" fill="#E4321F"/>
<circle cx="331.2" cy="892.6" r="2.3" fill="#E4321F"/>
<circle cx="343.99" cy="890.48" r="2.3" fill="#E4321F"/>
<circle cx="315.32" cy="898.46" r="2.3" fill="#E4321F"/>
<circle cx="301.75" cy="895.11" r="2.3" fill="#E4321F"/>
<circle cx="296" cy="897.35" r="2.3" fill="#E4321F"/>
<circle cx="332.99" cy="896.16" r="2.3" fill="#E4321F"/>
<circle cx="338.65" cy="892.92" r="2.3" fill="#E4321F"/>
<circle cx="329.46" cy="896.43" r="2.3" fill="#E4321F"/>
<rect x="212.4" y="742.4" width="144" height="166.5" fill="none" stroke="#333" stroke-width="0.9"/>
<text x="188.9" y="828.6" font-size="9.85" text-anchor="middle" fill="#1a1a1a" transform="rotate(-90 188.9 828.6)">Relative abundance (%)</text>
<line x1="198.1" y1="921" x2="198.1" y2="933.8" stroke="#333" stroke-width="0.9"/>
<rect x="193.5" y="923.4" width="9.2" height="8" fill="#F8776F" stroke="#333" stroke-width="0.9"/>
<line x1="193.5" y1="927.4" x2="202.7" y2="927.4" stroke="#333" stroke-width="1.0"/>
<text x="208.2" y="931" font-size="9.85" fill="#111">Patients with dry mouth (<tspan font-style="italic">n</tspan> = 41)</text>
<line x1="198.1" y1="935.6" x2="198.1" y2="948.3" stroke="#333" stroke-width="0.9"/>
<rect x="193.5" y="938" width="9.2" height="7.9" fill="#52C6C6" stroke="#333" stroke-width="0.9"/>
<line x1="193.5" y1="941.95" x2="202.7" y2="941.95" stroke="#333" stroke-width="1.0"/>
<text x="208.2" y="945.6" font-size="9.85" fill="#111">Patients without dry mouth (<tspan font-style="italic">n</tspan> = 37)</text>
<text x="375.1" y="713.74" font-size="12.8" text-anchor="middle" fill="#000">E</text>
<ellipse cx="580.4" cy="837.3" rx="203.3" ry="137.8" fill="#D5D9E5"/>
<text x="562.3" y="713.6" font-size="9.85" text-anchor="start" fill="#111">Host</text>
<ellipse cx="569.2" cy="838.4" rx="63.8" ry="55.7" fill="#FCEFC9"/>
<text x="541.9" y="796.3" font-size="9.85" text-anchor="start" fill="#111">Microbiome</text>
<g transform="translate(539.2 804.1) scale(0.64 0.84)"><rect x="0" y="0" width="100" height="100" fill="#E8D6CC"/><path d="M0,76 Q12,88 22,100 L0,100 Z" fill="#a39c99" opacity="0.75"/><path d="M100,86 Q95,94 93,100 L100,100 Z" fill="#c2b6b0"/><path d="M6,0 L94,0 C93,20 90,40 88,52 C85,65 82,75 78,84 C74,92 66,96 52,97 C40,96 33,92 28,86 C22,76 19,65 16,52 C13,40 8,20 6,0 Z" fill="url(#tge)"/></g>
<text x="572.2" y="820.1" font-size="9.85" text-anchor="middle" fill="#111">e.g.,</text>
<text x="573.1" y="830.8" font-size="9.85" text-anchor="middle" font-style="italic" fill="#111">Campylobacter</text>
<text x="573.1" y="842" font-size="9.85" text-anchor="middle" font-style="italic" fill="#111">concisus</text>
<text x="573.1" y="853.1" font-size="9.85" text-anchor="middle" font-style="italic" fill="#111">Campylobacter</text>
<text x="573.1" y="863.8" font-size="9.85" text-anchor="middle" font-style="italic" fill="#111">rectus</text>
<rect x="465.7" y="722.4" width="177.4" height="17.1" fill="none" stroke="#A9A9A9" stroke-width="0.8"/>
<text x="469.3" y="735" font-size="9.85" text-anchor="start" fill="#111">Damage epithelial barrier functions</text>
<rect x="435.7" y="751" width="171" height="17.3" fill="none" stroke="#A9A9A9" stroke-width="0.8"/>
<text x="439" y="763.6" font-size="9.85" text-anchor="start" fill="#111">Attachment to the cell-cell junctions</text>
<rect x="629.4" y="746.7" width="140.7" height="45.9" fill="none" stroke="#A9A9A9" stroke-width="0.8"/>
<text x="631.1" y="759.4" font-size="9.85" text-anchor="start" fill="#111">Cytokines (TNF, IL1B, IL10...)</text>
<text x="631.1" y="771.5" font-size="9.85" text-anchor="start" fill="#111">Chemokines (CCL2, CXCL1,</text>
<text x="631.1" y="783.2" font-size="9.85" text-anchor="start" fill="#111">CXCL2, CXCL9, CXCL10...)</text>
<rect x="636" y="812.3" width="143.8" height="30.7" fill="none" stroke="#A9A9A9" stroke-width="0.8"/>
<text x="637.4" y="823.6" font-size="9.85" text-anchor="start" fill="#111">Secretome (FlaB, OMP18,</text>
<text x="637.4" y="835" font-size="9.85" text-anchor="start" fill="#111">ATP synthase F1 alpha subunit)</text>
<rect x="674.1" y="852.5" width="90.3" height="17.1" fill="none" stroke="#A9A9A9" stroke-width="0.8"/>
<text x="676.9" y="865.1" font-size="9.85" text-anchor="start" fill="#111">Immunoreaction</text>
<rect x="597.3" y="892.3" width="102.6" height="17.5" fill="none" stroke="#A9A9A9" stroke-width="0.8"/>
<text x="601.6" y="905.2" font-size="9.85" text-anchor="start" fill="#111">GroEL-like protein</text>
<rect x="592.1" y="928.4" width="111.2" height="17.2" fill="none" stroke="#A9A9A9" stroke-width="0.8"/>
<text x="595.8" y="941.1" font-size="9.85" text-anchor="start" fill="#111">Cytokines (IL6, IL8...)</text>
<rect x="380.2" y="822" width="111.3" height="17.6" fill="none" stroke="#A9A9A9" stroke-width="0.8"/>
<text x="382.2" y="833.7" font-size="9.85" text-anchor="start" fill="#111">Inflammasome (IFI16)</text>
<rect x="407.1" y="874.7" width="130.4" height="59.5" fill="none" stroke="#A9A9A9" stroke-width="0.8"/>
<text x="413" y="887.6" font-size="9.85" text-anchor="start" fill="#111">Inflammatory pathways</text>
<text x="413" y="899.3" font-size="9.85" text-anchor="start" fill="#111">involving NF-kB, STAT,</text>
<text x="413" y="911" font-size="9.85" text-anchor="start" fill="#111">CREB1, and interferon</text>
<text x="413" y="923" font-size="9.85" text-anchor="start" fill="#111">regulatory factor signialing.</text>
<line x1="503" y1="749.6" x2="503" y2="743.2" stroke="#1E8449" stroke-width="1.1"/>
<polygon points="503,740 504.8,743.2 501.2,743.2" fill="#1E8449"/>
<line x1="519.8" y1="828.5" x2="505.91" y2="775.27" stroke="#1E8449" stroke-width="1.1"/>
<polygon points="504.9,771.4 508.04,774.71 503.78,775.83" fill="#1E8449"/>
<line x1="515.5" y1="830.7" x2="496.5" y2="830.7" stroke="#1E8449" stroke-width="1.1"/>
<polygon points="492.5,830.7 496.5,828.5 496.5,832.9" fill="#1E8449"/>
<line x1="515.5" y1="836.6" x2="471.84" y2="870.93" stroke="#1E8449" stroke-width="1.1"/>
<polygon points="468.7,873.4 470.48,869.2 473.2,872.66" fill="#1E8449"/>
<line x1="616.8" y1="825.5" x2="626.82" y2="775.22" stroke="#1E8449" stroke-width="1.1"/>
<polygon points="627.6,771.3 628.98,775.65 624.66,774.79" fill="#1E8449"/>
<line x1="622.5" y1="832.4" x2="633.31" y2="827.85" stroke="#1E8449" stroke-width="1.1"/>
<polygon points="637,826.3 634.17,829.88 632.46,825.82" fill="#1E8449"/>
<line x1="614" y1="860.7" x2="643.95" y2="886.02" stroke="#1E8449" stroke-width="1.1"/>
<polygon points="647,888.6 642.53,887.7 645.37,884.34" fill="#1E8449"/>
<line x1="732.8" y1="843.3" x2="732.8" y2="849.1" stroke="#1E8449" stroke-width="1.1"/>
<polygon points="732.8,852.3 731,849.1 734.6,849.1" fill="#1E8449"/>
<line x1="645.4" y1="910" x2="645.4" y2="924.1" stroke="#1E8449" stroke-width="1.1"/>
<polygon points="645.4,927.6 643.4,924.1 647.4,924.1" fill="#1E8449"/>
<polyline points="465.7,730.8 370.6,730.8 370.6,952.5" fill="none" stroke="#E8503A" stroke-width="1.0"/>
<polyline points="380.2,830.8 377,830.8 377,952.5" fill="none" stroke="#E8503A" stroke-width="1.0"/>
<polyline points="407.1,897.6 381.6,897.6 381.6,952.5" fill="none" stroke="#E8503A" stroke-width="1.0"/>
<polygon points="370.6,957.2 368.7,952.2 372.5,952.2" fill="#E8503A"/>
<polygon points="377,957.2 375.1,952.2 378.9,952.2" fill="#E8503A"/>
<polygon points="381.6,957.2 379.7,952.2 383.5,952.2" fill="#E8503A"/>
<polyline points="644.6,945.6 644.6,960.3 407,960.3" fill="none" stroke="#E8503A" stroke-width="1.0"/>
<polyline points="733.4,869.6 733.4,967.4 407,967.4" fill="none" stroke="#E8503A" stroke-width="1.0"/>
<polyline points="770.1,768 784.3,768 784.3,974.2 407,974.2" fill="none" stroke="#E8503A" stroke-width="1.0"/>
<polygon points="402.2,960.3 407.2,958.4 407.2,962.2" fill="#E8503A"/>
<polygon points="402.2,967.4 407.2,965.5 407.2,969.3" fill="#E8503A"/>
<polygon points="402.2,974.2 407.2,972.3 407.2,976.1" fill="#E8503A"/>
<text x="361.7" y="971.1" font-size="9.85" text-anchor="start" fill="#111">Gastritis</text>
</svg>
</body></html>
